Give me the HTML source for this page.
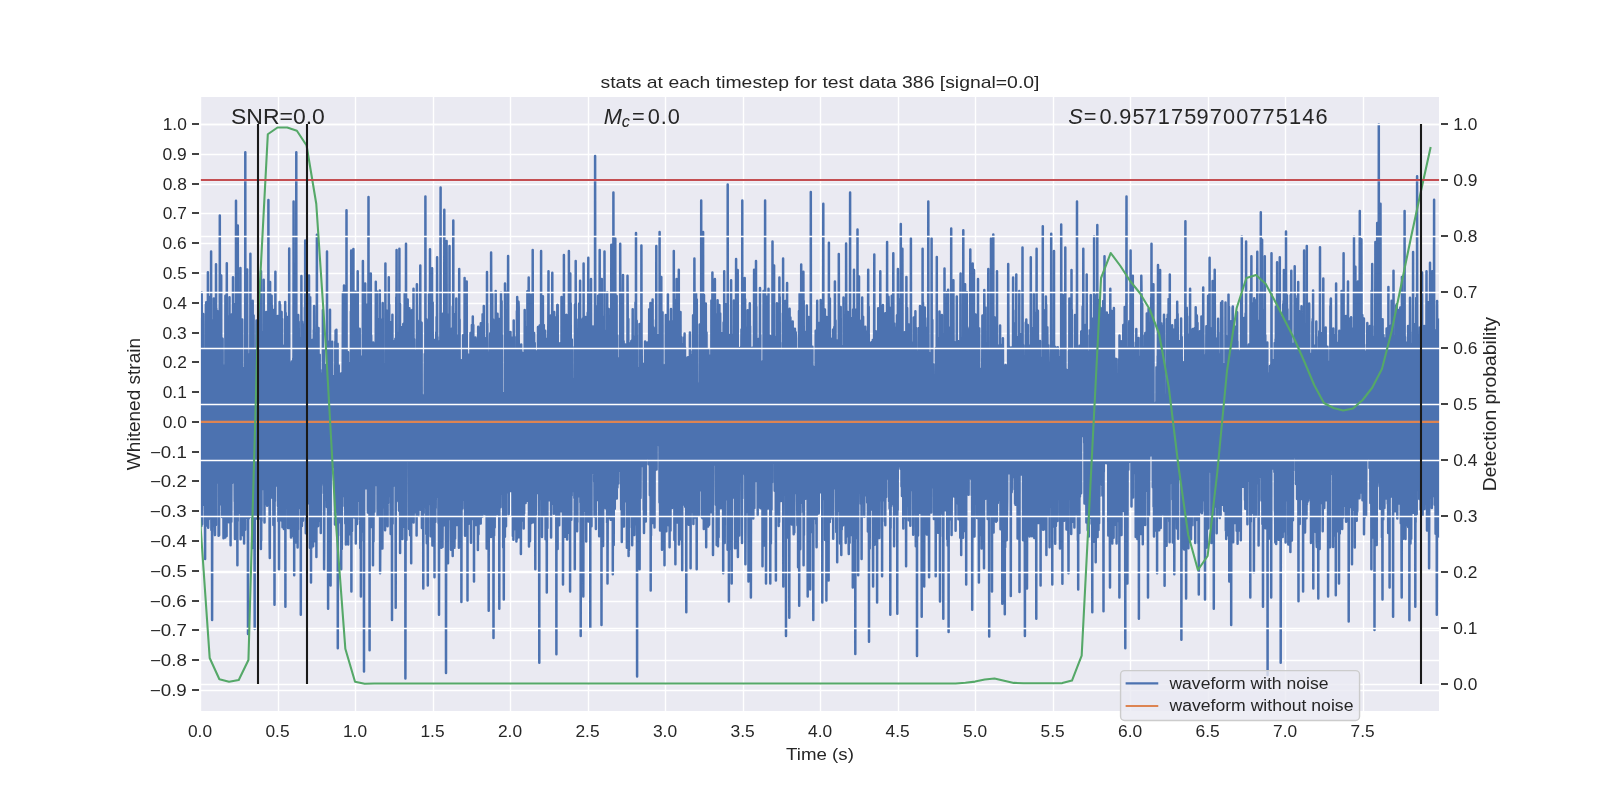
<!DOCTYPE html><html><head><meta charset="utf-8"><style>html,body{margin:0;padding:0;background:#fff;}svg{display:block;will-change:transform;}text{font-family:"Liberation Sans",sans-serif;fill:#262626;}</style></head><body>
<svg width="1600" height="800" viewBox="0 0 1600 800">
<defs><clipPath id="ax"><rect x="200" y="96" width="1240" height="616"/></clipPath></defs>
<rect x="0" y="0" width="1600" height="800" fill="#ffffff"/>
<rect x="200.8" y="96.8" width="1238.4" height="614.4" fill="#EAEAF2"/>
<path d="M200 690.5H1440M200 660.5H1440M200 630.5H1440M200 601.5H1440M200 571.5H1440M200 541.5H1440M200 511.5H1440M200 481.5H1440M200 452.5H1440M200 422.5H1440M200 392.5H1440M200 362.5H1440M200 333.5H1440M200 303.5H1440M200 273.5H1440M200 243.5H1440M200 213.5H1440M200 184.5H1440M200 154.5H1440M200 124.5H1440M200.5 96V712M278.5 96V712M355.5 96V712M433.5 96V712M510.5 96V712M588.5 96V712M665.5 96V712M743.5 96V712M820.5 96V712M898.5 96V712M975.5 96V712M1053.5 96V712M1130.5 96V712M1208.5 96V712M1285.5 96V712M1363.5 96V712" stroke="#ffffff" stroke-width="1.389" fill="none" clip-path="url(#ax)"/>
<polyline points="200.0,411.9 200.2,432.7 200.3,371.3 200.5,413.6 200.6,465.9 200.8,393.3 200.9,318.8 201.1,347.0 201.2,479.7 201.4,525.9 201.5,473.1 201.7,292.5 201.8,335.7 202.0,439.9 202.1,524.3 202.3,482.1 202.4,466.6 202.6,447.9 202.7,389.3 202.9,339.5 203.0,432.4 203.2,313.9 203.3,476.6 203.5,394.1 203.6,350.5 203.8,414.4 203.9,483.0 204.1,497.7 204.2,459.5 204.4,404.5 204.5,504.9 204.7,439.1 204.8,435.0 205.0,379.1 205.1,559.1 205.3,393.8 205.4,475.6 205.6,432.5 205.8,359.9 205.9,303.9 206.1,525.4 206.2,302.2 206.4,315.5 206.5,360.1 206.7,401.0 206.8,447.7 207.0,306.7 207.1,483.8 207.3,389.4 207.4,318.0 207.6,393.6 207.7,521.2 207.9,272.3 208.0,370.0 208.2,527.8 208.3,390.6 208.5,387.9 208.6,366.9 208.8,519.2 208.9,476.3 209.1,457.8 209.2,518.1 209.4,448.5 209.5,462.6 209.7,395.9 209.8,443.1 210.0,296.7 210.1,317.6 210.3,371.9 210.4,335.8 210.6,417.8 210.7,367.9 210.9,342.7 211.1,251.5 211.2,491.7 211.4,529.9 211.5,476.0 211.7,348.2 211.8,418.0 212.0,456.6 212.1,619.9 212.3,473.5 212.4,452.7 212.6,510.8 212.7,525.9 212.9,372.4 213.0,376.2 213.2,320.2 213.3,483.2 213.5,367.3 213.6,445.2 213.8,298.4 213.9,457.0 214.1,481.5 214.2,402.3 214.4,341.1 214.5,409.3 214.7,469.2 214.8,530.3 215.0,535.1 215.1,382.6 215.3,344.5 215.4,435.1 215.6,508.5 215.7,353.7 215.9,525.0 216.0,264.2 216.2,373.4 216.3,308.4 216.5,391.7 216.7,468.6 216.8,413.4 217.0,427.9 217.1,406.1 217.3,367.8 217.4,482.6 217.6,311.3 217.7,365.4 217.9,356.3 218.0,331.3 218.2,360.7 218.3,356.3 218.5,416.0 218.6,535.7 218.8,432.6 218.9,483.2 219.1,535.2 219.2,401.8 219.4,467.1 219.5,503.7 219.7,504.7 219.8,215.6 220.0,394.1 220.1,319.6 220.3,423.0 220.4,341.3 220.6,313.5 220.7,333.0 220.9,363.3 221.0,327.0 221.2,275.5 221.3,389.2 221.5,393.2 221.6,392.4 221.8,397.2 222.0,450.2 222.1,517.1 222.3,430.4 222.4,485.1 222.6,338.7 222.7,444.6 222.9,415.5 223.0,488.6 223.2,461.9 223.3,422.8 223.5,538.3 223.6,398.8 223.8,430.2 223.9,514.6 224.1,388.2 224.2,382.5 224.4,445.1 224.5,463.3 224.7,440.3 224.8,365.6 225.0,425.8 225.1,415.2 225.3,537.6 225.4,295.8 225.6,351.7 225.7,340.3 225.9,418.2 226.0,351.8 226.2,393.5 226.3,375.0 226.5,433.7 226.6,536.0 226.8,263.2 226.9,352.6 227.1,440.4 227.2,437.7 227.4,502.4 227.6,375.2 227.7,437.3 227.9,455.6 228.0,382.3 228.2,458.6 228.3,316.3 228.5,395.2 228.6,458.4 228.8,410.7 228.9,522.3 229.1,339.4 229.2,425.8 229.4,443.6 229.5,297.2 229.7,520.1 229.8,466.7 230.0,458.0 230.1,377.5 230.3,472.7 230.4,469.0 230.6,545.2 230.7,366.8 230.9,361.0 231.0,458.6 231.2,409.6 231.3,521.8 231.5,458.4 231.6,318.2 231.8,411.7 231.9,314.2 232.1,483.1 232.2,378.3 232.4,437.1 232.5,379.4 232.7,422.4 232.9,465.8 233.0,277.2 233.2,462.4 233.3,427.9 233.5,423.2 233.6,472.9 233.8,371.3 233.9,461.3 234.1,320.5 234.2,347.2 234.4,433.9 234.5,459.3 234.7,501.5 234.8,477.4 235.0,538.9 235.1,332.5 235.3,303.9 235.4,522.0 235.6,516.2 235.7,348.9 235.9,499.0 236.0,200.7 236.2,513.5 236.3,326.1 236.5,449.7 236.6,358.8 236.8,461.3 236.9,292.2 237.1,407.2 237.2,452.7 237.4,565.2 237.5,448.2 237.7,520.9 237.8,225.6 238.0,425.0 238.1,343.7 238.3,496.9 238.5,363.0 238.6,359.5 238.8,476.4 238.9,409.9 239.1,489.9 239.2,512.8 239.4,479.7 239.5,459.1 239.7,509.5 239.8,450.4 240.0,422.4 240.1,366.0 240.3,472.3 240.4,268.0 240.6,539.2 240.7,490.5 240.9,369.3 241.0,346.5 241.2,486.9 241.3,533.2 241.5,503.2 241.6,423.7 241.8,419.4 241.9,484.1 242.1,529.6 242.2,319.4 242.4,389.3 242.5,453.3 242.7,440.4 242.8,466.4 243.0,535.3 243.1,413.6 243.3,512.2 243.4,506.6 243.6,476.0 243.8,369.4 243.9,521.1 244.1,543.6 244.2,376.1 244.4,368.0 244.5,503.5 244.7,381.8 244.8,446.8 245.0,400.4 245.1,529.7 245.3,152.2 245.4,336.3 245.6,376.6 245.7,382.2 245.9,370.0 246.0,403.4 246.2,424.1 246.3,434.6 246.5,476.3 246.6,418.0 246.8,392.7 246.9,444.7 247.1,462.0 247.2,269.5 247.4,517.9 247.5,349.3 247.7,409.4 247.8,491.9 248.0,634.0 248.1,502.2 248.3,374.5 248.4,397.5 248.6,470.6 248.7,518.5 248.9,400.7 249.0,354.8 249.2,431.9 249.4,392.6 249.5,455.0 249.7,417.2 249.8,447.6 250.0,401.4 250.1,415.3 250.3,376.8 250.4,253.8 250.6,396.7 250.7,452.0 250.9,399.3 251.0,516.7 251.2,338.0 251.3,437.0 251.5,513.8 251.6,405.2 251.8,318.1 251.9,402.1 252.1,443.8 252.2,547.9 252.4,438.8 252.5,423.6 252.7,300.8 252.8,377.3 253.0,444.9 253.1,404.3 253.3,456.8 253.4,499.6 253.6,315.4 253.7,426.3 253.9,454.4 254.0,406.0 254.2,360.5 254.3,349.6 254.5,543.5 254.7,629.0 254.8,352.7 255.0,455.4 255.1,494.3 255.3,507.5 255.4,412.8 255.6,479.2 255.7,489.5 255.9,362.0 256.0,394.9 256.2,456.8 256.3,367.4 256.5,320.4 256.6,518.6 256.8,475.2 256.9,351.6 257.1,368.2 257.2,404.9 257.4,334.8 257.5,518.1 257.7,434.1 257.8,498.5 258.0,412.6 258.1,492.3 258.3,464.9 258.4,508.1 258.6,476.7 258.7,510.7 258.9,394.0 259.0,361.4 259.2,464.3 259.3,440.2 259.5,473.2 259.6,381.3 259.8,415.1 259.9,299.7 260.1,518.7 260.3,394.0 260.4,387.7 260.6,453.7 260.7,376.8 260.9,549.1 261.0,271.2 261.2,540.5 261.3,350.5 261.5,521.0 261.6,332.3 261.8,455.9 261.9,409.5 262.1,417.7 262.2,335.7 262.4,450.3 262.5,365.0 262.7,489.1 262.8,407.4 263.0,460.8 263.1,361.2 263.3,341.7 263.4,434.9 263.6,363.7 263.7,279.8 263.9,335.9 264.0,448.3 264.2,484.8 264.3,452.7 264.5,522.4 264.6,435.7 264.8,335.6 264.9,504.8 265.1,500.1 265.2,501.1 265.4,345.1 265.5,378.0 265.7,435.5 265.9,334.6 266.0,447.5 266.2,311.9 266.3,427.5 266.5,469.8 266.6,361.0 266.8,335.6 266.9,359.1 267.1,505.7 267.2,333.5 267.4,316.8 267.5,469.6 267.7,413.1 267.8,375.6 268.0,423.4 268.1,397.0 268.3,386.7 268.4,200.0 268.6,430.9 268.7,452.8 268.9,495.1 269.0,500.7 269.2,324.4 269.3,429.3 269.5,356.3 269.6,536.6 269.8,558.1 269.9,514.6 270.1,281.9 270.2,332.6 270.4,394.1 270.5,492.7 270.7,433.4 270.8,448.1 271.0,452.3 271.2,390.8 271.3,497.5 271.5,438.6 271.6,295.7 271.8,408.5 271.9,305.4 272.1,456.5 272.2,444.1 272.4,329.5 272.5,383.4 272.7,376.5 272.8,397.6 273.0,464.6 273.1,414.1 273.3,483.8 273.4,525.1 273.6,484.4 273.7,452.1 273.9,309.9 274.0,421.7 274.2,491.1 274.3,410.2 274.5,604.7 274.6,481.1 274.8,327.7 274.9,500.9 275.1,440.5 275.2,367.2 275.4,271.7 275.5,392.2 275.7,315.7 275.8,384.7 276.0,477.7 276.1,485.4 276.3,320.9 276.4,397.4 276.6,422.7 276.8,385.8 276.9,362.9 277.1,483.6 277.2,447.1 277.4,410.2 277.5,469.2 277.7,433.5 277.8,316.1 278.0,506.0 278.1,415.2 278.3,413.1 278.4,521.3 278.6,434.1 278.7,394.0 278.9,487.9 279.0,569.2 279.2,442.4 279.3,361.9 279.5,466.2 279.6,302.0 279.8,398.4 279.9,430.7 280.1,304.7 280.2,371.3 280.4,392.0 280.5,450.5 280.7,351.6 280.8,356.4 281.0,439.4 281.1,400.9 281.3,391.8 281.4,520.5 281.6,311.9 281.7,445.9 281.9,399.3 282.1,318.9 282.2,399.2 282.4,357.2 282.5,527.3 282.7,423.8 282.8,411.9 283.0,352.8 283.1,412.6 283.3,357.6 283.4,465.2 283.6,393.3 283.7,388.7 283.9,529.1 284.0,407.9 284.2,449.3 284.3,464.3 284.5,345.6 284.6,452.9 284.8,494.8 284.9,454.2 285.1,410.9 285.2,302.1 285.4,606.7 285.5,384.4 285.7,313.0 285.8,379.6 286.0,337.2 286.1,462.5 286.3,360.9 286.4,426.8 286.6,336.9 286.7,507.4 286.9,488.3 287.0,321.8 287.2,438.6 287.3,452.4 287.5,415.8 287.7,480.5 287.8,317.0 288.0,528.0 288.1,434.7 288.3,394.6 288.4,430.7 288.6,490.0 288.7,495.6 288.9,388.5 289.0,509.2 289.2,248.5 289.3,374.7 289.5,468.9 289.6,419.0 289.8,527.9 289.9,370.9 290.1,423.4 290.2,509.5 290.4,423.5 290.5,409.4 290.7,417.9 290.8,519.8 291.0,537.4 291.1,441.5 291.3,439.6 291.4,400.4 291.6,362.9 291.7,405.5 291.9,361.5 292.0,535.7 292.2,458.4 292.3,401.8 292.5,423.4 292.6,438.2 292.8,478.3 293.0,443.8 293.1,487.5 293.3,358.3 293.4,523.2 293.6,201.5 293.7,303.4 293.9,538.5 294.0,414.5 294.2,575.3 294.3,353.1 294.5,480.7 294.6,450.9 294.8,419.5 294.9,349.7 295.1,449.1 295.2,376.1 295.4,542.6 295.5,419.4 295.7,328.8 295.8,394.8 296.0,382.8 296.1,354.0 296.3,152.2 296.4,410.6 296.6,330.2 296.7,427.3 296.9,468.3 297.0,398.5 297.2,473.4 297.3,470.7 297.5,473.6 297.6,547.6 297.8,414.1 297.9,529.5 298.1,431.0 298.2,315.0 298.4,466.3 298.6,468.1 298.7,321.7 298.9,381.8 299.0,350.3 299.2,452.2 299.3,367.2 299.5,480.4 299.6,479.5 299.8,378.4 299.9,472.9 300.1,366.1 300.2,508.2 300.4,499.9 300.5,486.1 300.7,340.8 300.8,614.8 301.0,338.0 301.1,508.1 301.3,398.0 301.4,276.1 301.6,411.8 301.7,398.1 301.9,526.1 302.0,513.7 302.2,321.7 302.3,400.9 302.5,414.3 302.6,425.6 302.8,396.5 302.9,520.7 303.1,507.3 303.2,329.2 303.4,411.1 303.5,361.6 303.7,473.7 303.9,324.6 304.0,397.5 304.2,387.9 304.3,383.2 304.5,490.1 304.6,444.1 304.8,513.9 304.9,307.5 305.1,330.8 305.2,240.4 305.4,447.7 305.5,349.5 305.7,436.3 305.8,533.3 306.0,333.9 306.1,388.7 306.3,345.2 306.4,448.7 306.6,411.9 306.7,388.6 306.9,411.4 307.0,476.4 307.2,431.8 307.3,401.6 307.5,444.9 307.6,453.8 307.8,336.0 307.9,503.2 308.1,451.9 308.2,369.5 308.4,384.9 308.5,365.4 308.7,384.5 308.8,359.5 309.0,275.5 309.1,398.6 309.3,389.8 309.5,444.9 309.6,341.5 309.8,451.9 309.9,547.7 310.1,364.6 310.2,297.2 310.4,504.5 310.5,430.6 310.7,480.8 310.8,454.6 311.0,582.4 311.1,528.7 311.3,445.8 311.4,548.0 311.6,470.8 311.7,523.9 311.9,513.0 312.0,404.8 312.2,340.1 312.3,387.8 312.5,391.8 312.6,473.2 312.8,479.6 312.9,481.3 313.1,546.3 313.2,371.4 313.4,455.9 313.5,390.6 313.7,386.7 313.8,330.0 314.0,335.9 314.1,305.9 314.3,337.2 314.4,383.7 314.6,541.3 314.8,408.2 314.9,367.2 315.1,485.4 315.2,346.4 315.4,410.7 315.5,460.7 315.7,416.7 315.8,448.1 316.0,421.3 316.1,438.8 316.3,486.9 316.4,557.1 316.6,372.9 316.7,398.4 316.9,234.7 317.0,355.1 317.2,452.0 317.3,526.5 317.5,381.9 317.6,384.6 317.8,511.6 317.9,441.5 318.1,525.9 318.2,470.8 318.4,521.2 318.5,328.1 318.7,437.0 318.8,453.9 319.0,427.2 319.1,473.2 319.3,481.3 319.4,477.0 319.6,375.3 319.7,354.7 319.9,512.6 320.0,406.1 320.2,370.1 320.4,514.9 320.5,465.1 320.7,511.2 320.8,532.9 321.0,415.2 321.1,485.2 321.3,380.5 321.4,424.4 321.6,394.8 321.7,447.0 321.9,476.5 322.0,429.7 322.2,422.3 322.3,482.6 322.5,394.0 322.6,373.1 322.8,411.5 322.9,310.0 323.1,476.3 323.2,387.9 323.4,457.0 323.5,406.6 323.7,493.3 323.8,349.2 324.0,410.4 324.1,569.2 324.3,530.8 324.4,464.3 324.6,498.7 324.7,467.6 324.9,481.5 325.0,432.2 325.2,423.4 325.3,425.4 325.5,469.7 325.7,409.7 325.8,365.1 326.0,499.5 326.1,421.8 326.3,428.2 326.4,391.6 326.6,427.4 326.7,423.2 326.9,507.1 327.0,251.5 327.2,501.2 327.3,388.6 327.5,430.8 327.6,419.3 327.8,498.5 327.9,370.0 328.1,608.7 328.2,366.4 328.4,342.1 328.5,426.4 328.7,344.4 328.8,432.5 329.0,396.5 329.1,398.4 329.3,404.9 329.4,379.6 329.6,448.0 329.7,419.2 329.9,387.5 330.0,309.7 330.2,494.3 330.3,420.9 330.5,463.4 330.6,585.4 330.8,410.5 330.9,415.9 331.1,345.0 331.3,358.4 331.4,426.1 331.6,462.0 331.7,451.4 331.9,452.3 332.0,441.1 332.2,341.8 332.3,461.2 332.5,458.1 332.6,437.9 332.8,443.5 332.9,377.3 333.1,467.1 333.2,459.1 333.4,385.8 333.5,441.8 333.7,407.4 333.8,377.0 334.0,393.6 334.1,405.1 334.3,438.5 334.4,375.9 334.6,410.0 334.7,464.5 334.9,434.6 335.0,524.5 335.2,502.8 335.3,341.4 335.5,479.0 335.6,330.6 335.8,468.6 335.9,367.9 336.1,422.2 336.2,480.6 336.4,329.7 336.5,381.7 336.7,478.0 336.9,349.8 337.0,511.6 337.2,436.7 337.3,375.4 337.5,446.9 337.6,343.8 337.8,648.2 337.9,424.6 338.1,461.2 338.2,402.1 338.4,469.6 338.5,439.8 338.7,365.4 338.8,399.5 339.0,498.1 339.1,409.5 339.3,472.5 339.4,522.3 339.6,515.2 339.7,401.4 339.9,424.2 340.0,421.5 340.2,516.3 340.3,437.0 340.5,507.2 340.6,498.1 340.8,435.4 340.9,535.5 341.1,373.4 341.2,569.2 341.4,388.6 341.5,507.3 341.7,444.1 341.8,549.1 342.0,452.7 342.2,384.7 342.3,378.7 342.5,506.0 342.6,399.9 342.8,336.7 342.9,292.4 343.1,478.9 343.2,492.1 343.4,417.8 343.5,434.9 343.7,465.0 343.8,443.8 344.0,285.5 344.1,461.1 344.3,441.7 344.4,484.7 344.6,365.1 344.7,496.1 344.9,444.7 345.0,440.7 345.2,379.1 345.3,523.4 345.5,449.3 345.6,364.3 345.8,450.9 345.9,544.5 346.1,397.0 346.2,396.2 346.4,443.6 346.5,210.3 346.7,481.2 346.8,447.0 347.0,491.9 347.1,361.4 347.3,483.3 347.4,426.8 347.6,462.3 347.8,427.9 347.9,415.4 348.1,352.3 348.2,544.6 348.4,364.9 348.5,533.4 348.7,446.0 348.8,429.4 349.0,416.3 349.1,513.9 349.3,400.5 349.4,482.5 349.6,390.2 349.7,447.6 349.9,390.5 350.0,363.1 350.2,456.5 350.3,433.6 350.5,534.6 350.6,513.4 350.8,464.7 350.9,311.6 351.1,474.6 351.2,250.6 351.4,591.5 351.5,397.7 351.7,406.6 351.8,400.7 352.0,530.9 352.1,453.0 352.3,498.4 352.4,406.1 352.6,465.5 352.7,425.4 352.9,428.1 353.1,424.8 353.2,424.7 353.4,248.9 353.5,506.8 353.7,475.4 353.8,336.0 354.0,391.9 354.1,374.8 354.3,311.0 354.4,517.4 354.6,380.9 354.7,509.1 354.9,449.0 355.0,382.9 355.2,291.8 355.3,485.6 355.5,429.6 355.6,328.5 355.8,543.5 355.9,392.6 356.1,447.1 356.2,494.0 356.4,410.0 356.5,373.7 356.7,496.7 356.8,391.1 357.0,407.8 357.1,524.1 357.3,295.7 357.4,333.3 357.6,492.8 357.7,271.3 357.9,359.1 358.0,462.9 358.2,432.2 358.3,336.3 358.5,421.2 358.7,395.4 358.8,392.7 359.0,406.3 359.1,449.5 359.3,436.2 359.4,501.2 359.6,403.1 359.7,328.8 359.9,519.3 360.0,497.9 360.2,384.9 360.3,548.3 360.5,513.5 360.6,356.5 360.8,471.2 360.9,596.6 361.1,392.9 361.2,540.7 361.4,466.0 361.5,453.3 361.7,415.0 361.8,453.1 362.0,428.7 362.1,417.1 362.3,429.2 362.4,414.2 362.6,423.6 362.7,385.3 362.9,261.1 363.0,302.9 363.2,307.2 363.3,531.5 363.5,406.9 363.6,487.8 363.8,479.9 364.0,671.5 364.1,511.6 364.3,390.8 364.4,390.1 364.6,324.7 364.7,450.8 364.9,334.5 365.0,333.5 365.2,283.6 365.3,372.8 365.5,384.3 365.6,434.2 365.8,369.3 365.9,488.2 366.1,344.4 366.2,371.4 366.4,415.8 366.5,409.0 366.7,380.9 366.8,343.0 367.0,403.5 367.1,393.3 367.3,304.6 367.4,395.1 367.6,375.9 367.7,338.3 367.9,512.5 368.0,318.2 368.2,390.0 368.3,404.3 368.5,197.0 368.6,397.1 368.8,513.0 368.9,511.9 369.1,366.7 369.2,430.7 369.4,381.8 369.6,650.2 369.7,319.8 369.9,409.6 370.0,320.8 370.2,364.7 370.3,407.9 370.5,464.1 370.6,419.2 370.8,273.5 370.9,363.0 371.1,527.0 371.2,335.6 371.4,440.6 371.5,353.5 371.7,483.0 371.8,368.5 372.0,491.6 372.1,411.1 372.3,447.9 372.4,446.8 372.6,471.3 372.7,435.3 372.9,388.8 373.0,565.2 373.2,342.4 373.3,460.3 373.5,541.6 373.6,477.9 373.8,344.0 373.9,370.6 374.1,447.8 374.2,348.5 374.4,511.8 374.5,474.7 374.7,383.2 374.9,430.1 375.0,472.6 375.2,376.0 375.3,367.5 375.5,395.7 375.6,433.1 375.8,281.8 375.9,423.1 376.1,399.4 376.2,346.0 376.4,485.0 376.5,364.7 376.7,367.2 376.8,361.1 377.0,291.5 377.1,369.4 377.3,469.6 377.4,439.6 377.6,515.8 377.7,461.1 377.9,503.5 378.0,430.6 378.2,336.6 378.3,319.8 378.5,385.5 378.6,473.2 378.8,468.5 378.9,472.6 379.1,347.5 379.2,498.0 379.4,354.6 379.5,424.6 379.7,408.5 379.8,290.4 380.0,461.6 380.1,573.3 380.3,539.6 380.5,490.7 380.6,428.4 380.8,484.1 380.9,377.2 381.1,365.4 381.2,398.4 381.4,401.5 381.5,519.2 381.7,531.8 381.8,398.8 382.0,319.6 382.1,452.0 382.3,526.6 382.4,548.4 382.6,478.0 382.7,302.9 382.9,439.0 383.0,507.2 383.2,471.9 383.3,461.6 383.5,402.0 383.6,475.9 383.8,494.7 383.9,437.2 384.1,387.1 384.2,368.7 384.4,381.1 384.5,459.2 384.7,364.2 384.8,486.8 385.0,401.0 385.1,530.2 385.3,403.3 385.4,263.4 385.6,469.0 385.8,340.2 385.9,405.9 386.1,322.2 386.2,497.7 386.4,339.9 386.5,356.1 386.7,404.1 386.8,429.0 387.0,310.8 387.1,365.9 387.3,457.3 387.4,440.5 387.6,526.2 387.7,407.1 387.9,393.3 388.0,502.9 388.2,342.3 388.3,423.5 388.5,450.8 388.6,430.3 388.8,277.3 388.9,348.8 389.1,483.4 389.2,304.7 389.4,428.9 389.5,370.0 389.7,468.2 389.8,495.9 390.0,366.0 390.1,482.6 390.3,483.6 390.4,359.2 390.6,513.7 390.7,534.1 390.9,383.7 391.0,322.2 391.2,481.4 391.4,450.8 391.5,528.5 391.7,510.5 391.8,375.1 392.0,619.9 392.1,497.0 392.3,384.6 392.4,314.8 392.6,523.8 392.7,417.6 392.9,421.0 393.0,378.7 393.2,364.4 393.3,437.8 393.5,485.5 393.6,340.9 393.8,375.5 393.9,426.0 394.1,459.0 394.2,429.9 394.4,410.8 394.5,477.2 394.7,432.4 394.8,374.1 395.0,363.5 395.1,370.6 395.3,342.3 395.4,338.7 395.6,481.7 395.7,607.7 395.9,441.3 396.0,475.2 396.2,425.4 396.3,296.9 396.5,298.9 396.6,249.9 396.8,404.5 397.0,447.0 397.1,495.1 397.3,451.3 397.4,422.3 397.6,448.0 397.7,410.9 397.9,500.4 398.0,388.4 398.2,399.6 398.3,421.7 398.5,435.8 398.6,332.7 398.8,502.1 398.9,432.0 399.1,510.7 399.2,415.6 399.4,248.8 399.5,355.0 399.7,334.9 399.8,373.7 400.0,303.9 400.1,553.0 400.3,398.9 400.4,394.7 400.6,433.4 400.7,398.5 400.9,422.3 401.0,494.3 401.2,457.1 401.3,351.8 401.5,523.0 401.6,327.2 401.8,387.1 401.9,440.5 402.1,433.5 402.3,360.9 402.4,539.0 402.6,472.5 402.7,488.5 402.9,484.6 403.0,332.0 403.2,363.6 403.3,324.1 403.5,344.7 403.6,394.1 403.8,526.7 403.9,460.7 404.1,407.2 404.2,423.3 404.4,371.8 404.5,344.5 404.7,293.5 404.8,313.2 405.0,505.8 405.1,389.5 405.3,498.1 405.4,678.6 405.6,535.9 405.7,391.3 405.9,335.2 406.0,243.8 406.2,396.2 406.3,539.9 406.5,430.3 406.6,444.1 406.8,394.3 406.9,347.9 407.1,372.3 407.2,369.1 407.4,372.3 407.5,454.2 407.7,299.5 407.9,448.0 408.0,400.7 408.2,408.3 408.3,356.2 408.5,401.0 408.6,400.1 408.8,439.4 408.9,433.7 409.1,529.0 409.2,415.6 409.4,308.3 409.5,436.7 409.7,465.5 409.8,472.7 410.0,430.7 410.1,535.2 410.3,357.7 410.4,413.4 410.6,505.5 410.7,322.0 410.9,429.3 411.0,394.1 411.2,563.2 411.3,310.4 411.5,514.2 411.6,364.8 411.8,488.8 411.9,486.7 412.1,489.5 412.2,350.1 412.4,401.0 412.5,383.8 412.7,309.8 412.8,370.2 413.0,376.7 413.2,363.9 413.3,510.7 413.5,288.8 413.6,522.5 413.8,496.9 413.9,429.5 414.1,339.2 414.2,346.0 414.4,512.3 414.5,408.3 414.7,427.8 414.8,380.6 415.0,376.3 415.1,393.5 415.3,502.4 415.4,390.9 415.6,351.7 415.7,464.6 415.9,429.9 416.0,441.4 416.2,474.6 416.3,398.5 416.5,443.3 416.6,535.6 416.8,424.0 416.9,284.3 417.1,309.5 417.2,469.0 417.4,349.9 417.5,411.3 417.7,399.2 417.8,320.8 418.0,353.8 418.1,409.5 418.3,499.0 418.4,515.2 418.6,427.2 418.8,395.9 418.9,381.5 419.1,359.0 419.2,343.0 419.4,478.5 419.5,349.0 419.7,508.8 419.8,331.9 420.0,394.7 420.1,370.8 420.3,265.6 420.4,399.0 420.6,509.7 420.7,332.9 420.9,449.3 421.0,463.4 421.2,335.4 421.3,405.8 421.5,494.4 421.6,322.8 421.8,484.0 421.9,528.1 422.1,451.5 422.2,395.1 422.4,410.9 422.5,413.4 422.7,397.5 422.8,404.0 423.0,439.7 423.1,471.6 423.3,588.5 423.4,451.0 423.6,446.9 423.7,513.1 423.9,466.7 424.1,415.1 424.2,396.2 424.4,427.2 424.5,437.0 424.7,377.4 424.8,354.0 425.0,365.1 425.1,435.0 425.3,459.5 425.4,196.6 425.6,378.7 425.7,364.9 425.9,395.5 426.0,492.3 426.2,319.1 426.3,534.0 426.5,338.9 426.6,423.2 426.8,543.3 426.9,454.5 427.1,320.2 427.2,470.4 427.4,521.6 427.5,445.7 427.7,489.3 427.8,585.4 428.0,384.7 428.1,354.0 428.3,467.3 428.4,377.3 428.6,453.7 428.7,430.1 428.9,411.3 429.0,294.2 429.2,378.4 429.3,504.1 429.5,377.6 429.7,440.1 429.8,460.2 430.0,249.2 430.1,424.0 430.3,426.8 430.4,454.9 430.6,536.2 430.7,299.0 430.9,410.9 431.0,406.5 431.2,361.6 431.3,436.5 431.5,333.9 431.6,319.0 431.8,426.9 431.9,415.3 432.1,268.3 432.2,434.2 432.4,545.5 432.5,425.1 432.7,302.6 432.8,430.7 433.0,468.6 433.1,401.8 433.3,376.4 433.4,372.9 433.6,397.6 433.7,357.2 433.9,340.3 434.0,512.3 434.2,452.8 434.3,346.8 434.5,577.3 434.6,401.6 434.8,363.8 435.0,339.7 435.1,491.9 435.3,522.0 435.4,516.0 435.6,425.3 435.7,507.9 435.9,441.0 436.0,437.0 436.2,332.8 436.3,332.1 436.5,425.1 436.6,316.9 436.8,325.5 436.9,386.5 437.1,257.3 437.2,342.9 437.4,496.7 437.5,337.0 437.7,377.9 437.8,370.7 438.0,398.9 438.1,404.1 438.3,341.3 438.4,515.5 438.6,523.1 438.7,407.8 438.9,417.4 439.0,614.8 439.2,459.4 439.3,468.9 439.5,356.8 439.6,388.6 439.8,506.3 439.9,535.5 440.1,466.1 440.2,458.9 440.4,307.3 440.6,187.6 440.7,456.2 440.9,326.8 441.0,346.8 441.2,383.9 441.3,547.7 441.5,406.1 441.6,537.5 441.8,451.2 441.9,404.2 442.1,446.8 442.2,339.3 442.4,432.3 442.5,546.9 442.7,507.4 442.8,524.7 443.0,447.4 443.1,313.4 443.3,377.9 443.4,392.4 443.6,525.5 443.7,428.9 443.9,424.1 444.0,457.8 444.2,491.7 444.3,209.8 444.5,506.3 444.6,508.4 444.8,385.4 444.9,449.1 445.1,487.3 445.2,342.5 445.4,502.6 445.5,343.7 445.7,325.7 445.9,503.2 446.0,672.9 446.2,493.5 446.3,486.1 446.5,402.5 446.6,240.9 446.8,437.0 446.9,430.3 447.1,336.9 447.2,354.9 447.4,388.8 447.5,471.3 447.7,354.0 447.8,406.1 448.0,563.2 448.1,468.1 448.3,314.6 448.4,465.4 448.6,464.3 448.7,328.6 448.9,370.6 449.0,494.1 449.2,357.9 449.3,451.9 449.5,246.1 449.6,412.1 449.8,343.0 449.9,518.9 450.1,456.4 450.2,410.1 450.4,399.1 450.5,359.3 450.7,466.1 450.8,525.0 451.0,549.7 451.1,374.2 451.3,360.7 451.5,491.8 451.6,464.0 451.8,480.0 451.9,328.5 452.1,404.9 452.2,349.8 452.4,439.7 452.5,535.4 452.7,556.1 452.8,306.5 453.0,341.8 453.1,399.2 453.3,220.6 453.4,399.6 453.6,545.3 453.7,429.0 453.9,403.0 454.0,400.5 454.2,442.9 454.3,545.1 454.5,547.7 454.6,409.7 454.8,487.7 454.9,314.3 455.1,538.4 455.2,459.3 455.4,475.1 455.5,403.6 455.7,403.6 455.8,449.3 456.0,330.2 456.1,460.4 456.3,298.4 456.4,524.1 456.6,480.3 456.8,439.3 456.9,454.8 457.1,525.1 457.2,482.0 457.4,460.3 457.5,454.8 457.7,408.9 457.8,365.6 458.0,391.1 458.1,394.8 458.3,434.3 458.4,335.4 458.6,394.6 458.7,450.9 458.9,547.7 459.0,476.9 459.2,269.0 459.3,437.9 459.5,456.1 459.6,319.5 459.8,541.9 459.9,429.4 460.1,379.4 460.2,420.0 460.4,514.7 460.5,423.7 460.7,359.9 460.8,394.5 461.0,397.6 461.1,398.4 461.3,411.6 461.4,602.0 461.6,446.6 461.7,389.3 461.9,484.4 462.0,364.8 462.2,396.5 462.4,508.4 462.5,481.5 462.7,438.1 462.8,391.0 463.0,451.7 463.1,335.2 463.3,391.2 463.4,484.7 463.6,459.5 463.7,405.1 463.9,368.3 464.0,372.0 464.2,429.7 464.3,410.9 464.5,423.9 464.6,278.0 464.8,500.6 464.9,378.2 465.1,535.8 465.2,389.3 465.4,403.4 465.5,421.9 465.7,463.6 465.8,309.8 466.0,357.7 466.1,420.1 466.3,389.3 466.4,496.9 466.6,385.6 466.7,281.4 466.9,515.9 467.0,350.4 467.2,456.8 467.3,363.9 467.5,600.6 467.6,394.6 467.8,523.6 468.0,474.5 468.1,440.1 468.3,474.2 468.4,441.1 468.6,354.7 468.7,523.8 468.9,517.3 469.0,418.7 469.2,466.9 469.3,502.0 469.5,412.9 469.6,466.9 469.8,399.1 469.9,425.0 470.1,437.9 470.2,427.3 470.4,352.8 470.5,333.1 470.7,434.6 470.8,504.2 471.0,542.7 471.1,374.1 471.3,515.9 471.4,490.1 471.6,426.1 471.7,390.0 471.9,324.9 472.0,349.7 472.2,337.3 472.3,463.0 472.5,405.3 472.6,497.8 472.8,316.4 472.9,519.1 473.1,463.1 473.3,324.9 473.4,439.0 473.6,429.2 473.7,455.1 473.9,395.8 474.0,581.4 474.2,400.8 474.3,429.5 474.5,362.2 474.6,379.8 474.8,450.4 474.9,466.7 475.1,371.8 475.2,405.8 475.4,388.5 475.5,337.6 475.7,339.9 475.8,369.6 476.0,381.6 476.1,524.9 476.3,511.8 476.4,365.5 476.6,377.3 476.7,386.1 476.9,363.9 477.0,466.6 477.2,382.9 477.3,501.7 477.5,417.6 477.6,357.6 477.8,476.5 477.9,550.0 478.1,343.3 478.2,326.8 478.4,438.9 478.5,534.2 478.7,478.4 478.9,383.6 479.0,444.4 479.2,371.7 479.3,411.4 479.5,469.6 479.6,356.8 479.8,327.7 479.9,481.2 480.1,386.2 480.2,410.9 480.4,402.3 480.5,430.3 480.7,523.5 480.8,323.3 481.0,506.6 481.1,492.5 481.3,375.9 481.4,409.3 481.6,486.5 481.7,475.3 481.9,434.8 482.0,457.3 482.2,376.5 482.3,516.5 482.5,396.3 482.6,314.2 482.8,407.7 482.9,494.2 483.1,480.7 483.2,418.8 483.4,472.7 483.5,334.8 483.7,500.8 483.8,306.1 484.0,497.5 484.2,425.2 484.3,510.2 484.5,363.8 484.6,485.0 484.8,514.3 484.9,449.6 485.1,455.4 485.2,477.4 485.4,389.6 485.5,367.6 485.7,338.3 485.8,448.8 486.0,354.1 486.1,471.0 486.3,486.7 486.4,375.5 486.6,469.7 486.7,548.5 486.9,429.0 487.0,271.9 487.2,422.9 487.3,323.4 487.5,353.1 487.6,421.7 487.8,435.5 487.9,447.8 488.1,474.1 488.2,396.4 488.4,434.8 488.5,453.2 488.7,610.7 488.8,377.0 489.0,352.5 489.1,376.6 489.3,536.4 489.4,413.6 489.6,514.7 489.8,466.2 489.9,495.5 490.1,343.2 490.2,333.2 490.4,451.0 490.5,420.2 490.7,423.5 490.8,447.9 491.0,537.1 491.1,252.6 491.3,309.7 491.4,468.0 491.6,384.5 491.7,434.0 491.9,404.4 492.0,312.2 492.2,443.8 492.3,293.7 492.5,445.4 492.6,429.5 492.8,471.9 492.9,402.2 493.1,319.6 493.2,405.8 493.4,526.0 493.5,638.1 493.7,498.4 493.8,398.7 494.0,512.1 494.1,535.4 494.3,452.6 494.4,393.1 494.6,478.2 494.7,527.5 494.9,387.3 495.1,484.6 495.2,362.1 495.4,350.9 495.5,366.0 495.7,291.0 495.8,412.7 496.0,332.3 496.1,491.8 496.3,396.2 496.4,433.8 496.6,373.8 496.7,458.1 496.9,514.6 497.0,367.5 497.2,511.0 497.3,491.4 497.5,313.8 497.6,505.6 497.8,474.4 497.9,476.5 498.1,366.8 498.2,444.7 498.4,334.2 498.5,441.3 498.7,447.1 498.8,493.3 499.0,433.5 499.1,319.1 499.3,608.7 499.4,496.0 499.6,449.5 499.7,384.6 499.9,415.9 500.0,442.3 500.2,379.7 500.3,396.7 500.5,507.3 500.7,433.9 500.8,387.1 501.0,292.8 501.1,486.8 501.3,433.0 501.4,327.9 501.6,301.2 501.7,417.4 501.9,335.3 502.0,369.9 502.2,465.6 502.3,399.1 502.5,493.4 502.6,396.4 502.8,392.9 502.9,461.3 503.1,489.2 503.2,547.4 503.4,462.8 503.5,431.4 503.7,545.2 503.8,599.6 504.0,484.3 504.1,455.2 504.3,461.5 504.4,418.6 504.6,448.7 504.7,435.4 504.9,536.8 505.0,283.6 505.2,363.8 505.3,463.3 505.5,406.2 505.6,474.1 505.8,394.8 506.0,526.2 506.1,403.6 506.3,319.4 506.4,391.4 506.6,467.6 506.7,357.1 506.9,492.2 507.0,372.1 507.2,415.3 507.3,483.9 507.5,392.3 507.6,291.3 507.8,334.8 507.9,355.5 508.1,256.0 508.2,319.3 508.4,431.7 508.5,390.9 508.7,514.3 508.8,511.0 509.0,367.7 509.1,431.7 509.3,424.9 509.4,412.6 509.6,463.7 509.7,409.3 509.9,401.1 510.0,367.8 510.2,413.4 510.3,400.3 510.5,332.1 510.6,491.0 510.8,417.1 510.9,389.4 511.1,351.6 511.2,426.8 511.4,415.1 511.6,448.4 511.7,337.4 511.9,446.5 512.0,375.1 512.2,429.7 512.3,419.8 512.5,515.9 512.6,418.0 512.8,424.2 512.9,536.1 513.1,478.9 513.2,456.8 513.4,539.7 513.5,515.7 513.7,320.6 513.8,501.3 514.0,488.0 514.1,529.6 514.3,337.0 514.4,358.3 514.6,399.8 514.7,416.0 514.9,459.9 515.0,443.9 515.2,474.0 515.3,376.0 515.5,373.6 515.6,358.2 515.8,525.5 515.9,372.5 516.1,377.5 516.2,351.6 516.4,541.5 516.5,421.5 516.7,539.3 516.9,311.1 517.0,460.2 517.2,297.1 517.3,347.1 517.5,464.8 517.6,375.3 517.8,509.3 517.9,348.4 518.1,446.9 518.2,537.2 518.4,439.4 518.5,301.8 518.7,307.6 518.8,458.8 519.0,400.0 519.1,378.2 519.3,537.3 519.4,463.5 519.6,453.5 519.7,393.0 519.9,461.8 520.0,531.1 520.2,398.6 520.3,472.1 520.5,518.0 520.6,517.8 520.8,439.3 520.9,554.1 521.1,435.5 521.2,344.5 521.4,409.1 521.5,487.6 521.7,520.6 521.8,443.4 522.0,366.1 522.1,464.8 522.3,519.6 522.5,353.1 522.6,481.8 522.8,402.0 522.9,474.2 523.1,384.2 523.2,452.1 523.4,363.8 523.5,376.5 523.7,528.4 523.8,428.2 524.0,498.8 524.1,513.4 524.3,469.0 524.4,394.3 524.6,478.2 524.7,310.1 524.9,407.1 525.0,499.1 525.2,458.5 525.3,472.3 525.5,408.7 525.6,503.0 525.8,327.0 525.9,450.1 526.1,440.7 526.2,353.4 526.4,481.2 526.5,422.0 526.7,373.5 526.8,391.3 527.0,400.0 527.1,459.7 527.3,500.8 527.4,291.2 527.6,434.6 527.7,466.7 527.9,476.2 528.1,327.8 528.2,438.2 528.4,390.6 528.5,330.4 528.7,277.6 528.8,361.5 529.0,546.4 529.1,458.6 529.3,335.7 529.4,440.1 529.6,397.8 529.7,434.9 529.9,471.5 530.0,541.2 530.2,513.1 530.3,294.6 530.5,428.2 530.6,517.0 530.8,494.3 530.9,355.9 531.1,497.8 531.2,472.0 531.4,511.5 531.5,523.0 531.7,297.8 531.8,433.2 532.0,447.7 532.1,470.3 532.3,368.4 532.4,417.3 532.6,400.0 532.7,249.9 532.9,450.7 533.0,460.7 533.2,333.8 533.4,461.6 533.5,355.9 533.7,522.2 533.8,421.5 534.0,396.8 534.1,332.9 534.3,471.7 534.4,454.1 534.6,493.1 534.7,343.1 534.9,406.0 535.0,489.7 535.2,368.1 535.3,569.2 535.5,437.9 535.6,390.5 535.8,384.8 535.9,514.5 536.1,482.7 536.2,456.0 536.4,376.3 536.5,434.4 536.7,351.6 536.8,467.0 537.0,353.8 537.1,443.5 537.3,492.9 537.4,467.7 537.6,428.8 537.7,408.5 537.9,417.5 538.0,327.1 538.2,469.9 538.3,359.5 538.5,437.5 538.6,366.9 538.8,481.9 539.0,490.1 539.1,493.9 539.3,662.8 539.4,331.6 539.6,498.9 539.7,325.4 539.9,371.1 540.0,479.0 540.2,416.3 540.3,382.4 540.5,432.0 540.6,365.5 540.8,490.1 540.9,481.3 541.1,251.0 541.2,464.6 541.4,397.7 541.5,492.4 541.7,328.8 541.8,478.6 542.0,536.9 542.1,490.5 542.3,344.6 542.4,429.3 542.6,388.8 542.7,508.7 542.9,296.3 543.0,366.2 543.2,466.3 543.3,499.0 543.5,514.7 543.6,509.7 543.8,325.0 543.9,499.5 544.1,467.6 544.3,466.8 544.4,458.3 544.6,422.3 544.7,395.7 544.9,446.9 545.0,480.0 545.2,330.8 545.3,399.1 545.5,475.1 545.6,539.2 545.8,520.0 545.9,508.7 546.1,412.0 546.2,338.7 546.4,414.6 546.5,383.9 546.7,542.5 546.8,592.5 547.0,442.3 547.1,416.5 547.3,439.4 547.4,528.0 547.6,345.0 547.7,371.9 547.9,416.6 548.0,349.3 548.2,337.0 548.3,324.0 548.5,271.3 548.6,448.8 548.8,463.0 548.9,359.5 549.1,482.0 549.2,500.3 549.4,383.1 549.5,385.3 549.7,377.4 549.9,494.9 550.0,400.9 550.2,358.0 550.3,463.2 550.5,445.0 550.6,447.5 550.8,315.4 550.9,358.7 551.1,537.4 551.2,372.3 551.4,376.1 551.5,440.2 551.7,384.3 551.8,403.1 552.0,350.6 552.1,330.4 552.3,272.8 552.4,404.1 552.6,405.2 552.7,503.7 552.9,467.4 553.0,472.5 553.2,418.7 553.3,371.9 553.5,445.7 553.6,435.1 553.8,466.5 553.9,513.7 554.1,480.6 554.2,311.9 554.4,324.0 554.5,447.7 554.7,377.0 554.8,317.0 555.0,329.4 555.2,465.5 555.3,359.3 555.5,452.7 555.6,418.2 555.8,409.8 555.9,441.9 556.1,383.8 556.2,393.9 556.4,654.3 556.5,400.3 556.7,467.1 556.8,412.1 557.0,465.0 557.1,414.8 557.3,304.9 557.4,478.7 557.6,549.1 557.7,305.0 557.9,400.4 558.0,478.5 558.2,443.6 558.3,501.4 558.5,352.8 558.6,369.3 558.8,375.5 558.9,405.6 559.1,427.2 559.2,525.3 559.4,400.8 559.5,349.2 559.7,428.8 559.8,511.3 560.0,374.8 560.1,439.0 560.3,343.0 560.4,396.7 560.6,413.4 560.8,506.9 560.9,374.9 561.1,412.1 561.2,363.2 561.4,511.3 561.5,296.9 561.7,383.4 561.8,447.7 562.0,363.0 562.1,396.8 562.3,479.0 562.4,480.4 562.6,357.2 562.7,395.9 562.9,340.3 563.0,584.4 563.2,475.7 563.3,306.2 563.5,502.8 563.6,461.6 563.8,490.5 563.9,255.0 564.1,374.4 564.2,514.2 564.4,481.9 564.5,349.8 564.7,355.6 564.8,476.4 565.0,536.7 565.1,431.0 565.3,451.4 565.4,510.7 565.6,456.0 565.7,435.8 565.9,470.7 566.1,434.7 566.2,315.1 566.4,373.4 566.5,315.1 566.7,352.5 566.8,403.9 567.0,528.8 567.1,539.5 567.3,423.7 567.4,457.9 567.6,504.2 567.7,389.9 567.9,326.4 568.0,427.9 568.2,415.2 568.3,470.1 568.5,482.6 568.6,435.5 568.8,532.8 568.9,251.0 569.1,461.4 569.2,431.6 569.4,339.5 569.5,343.6 569.7,434.3 569.8,333.2 570.0,489.6 570.1,591.5 570.3,273.5 570.4,472.8 570.6,405.6 570.7,303.3 570.9,495.9 571.0,416.8 571.2,449.5 571.3,519.7 571.5,389.9 571.7,495.7 571.8,339.4 572.0,420.2 572.1,440.2 572.3,418.6 572.4,413.7 572.6,439.2 572.7,417.3 572.9,471.7 573.0,465.1 573.2,380.0 573.3,454.0 573.5,490.9 573.6,421.2 573.8,394.7 573.9,455.5 574.1,411.0 574.2,451.9 574.4,497.9 574.5,347.1 574.7,400.5 574.8,569.2 575.0,304.5 575.1,367.9 575.3,475.2 575.4,333.7 575.6,378.9 575.7,261.1 575.9,473.0 576.0,469.1 576.2,491.6 576.3,467.7 576.5,319.6 576.6,335.4 576.8,521.5 577.0,376.4 577.1,531.2 577.3,412.5 577.4,522.0 577.6,423.5 577.7,484.1 577.9,471.4 578.0,369.1 578.2,404.8 578.3,408.2 578.5,493.4 578.6,363.1 578.8,496.2 578.9,464.3 579.1,303.4 579.2,376.3 579.4,396.5 579.5,470.0 579.7,482.1 579.8,370.5 580.0,452.6 580.1,280.7 580.3,436.4 580.4,502.6 580.6,445.0 580.7,636.0 580.9,475.2 581.0,537.4 581.2,319.7 581.3,537.2 581.5,495.9 581.6,401.3 581.8,523.1 581.9,434.5 582.1,442.7 582.2,441.1 582.4,433.2 582.6,535.9 582.7,466.3 582.9,318.4 583.0,328.1 583.2,468.7 583.3,596.6 583.5,497.4 583.6,263.4 583.8,473.1 583.9,511.1 584.1,384.8 584.2,447.9 584.4,486.0 584.5,354.1 584.7,450.1 584.8,439.6 585.0,439.0 585.1,341.2 585.3,452.3 585.4,423.0 585.6,480.1 585.7,316.9 585.9,449.4 586.0,472.9 586.2,541.6 586.3,343.7 586.5,468.4 586.6,427.4 586.8,454.1 586.9,436.5 587.1,395.4 587.2,483.2 587.4,506.5 587.5,425.0 587.7,312.7 587.9,386.3 588.0,474.7 588.2,318.2 588.3,257.8 588.5,521.4 588.6,400.1 588.8,427.2 588.9,404.7 589.1,485.4 589.2,338.0 589.4,448.9 589.5,330.8 589.7,303.2 589.8,466.7 590.0,375.0 590.1,292.3 590.3,628.0 590.4,360.8 590.6,386.2 590.7,415.5 590.9,319.0 591.0,279.1 591.2,411.8 591.3,458.3 591.5,526.3 591.6,435.3 591.8,405.2 591.9,459.3 592.1,471.6 592.2,440.5 592.4,438.4 592.5,465.3 592.7,370.0 592.8,395.6 593.0,326.6 593.1,373.5 593.3,406.9 593.5,403.0 593.6,406.0 593.8,473.0 593.9,335.4 594.1,416.0 594.2,481.7 594.4,464.6 594.5,516.4 594.7,465.0 594.8,396.7 595.0,327.6 595.1,156.0 595.3,357.2 595.4,350.7 595.6,447.5 595.7,306.0 595.9,529.1 596.0,412.0 596.2,463.6 596.3,359.4 596.5,325.2 596.6,335.6 596.8,367.1 596.9,422.9 597.1,438.1 597.2,431.1 597.4,408.4 597.5,441.9 597.7,307.0 597.8,463.8 598.0,500.1 598.1,295.8 598.3,320.3 598.4,389.3 598.6,446.2 598.7,339.6 598.9,464.7 599.1,448.9 599.2,536.3 599.4,494.4 599.5,399.0 599.7,249.9 599.8,414.2 600.0,421.4 600.1,528.1 600.3,433.1 600.4,441.6 600.6,476.4 600.7,489.9 600.9,503.7 601.0,488.0 601.2,389.9 601.3,419.0 601.5,624.9 601.6,374.8 601.8,279.1 601.9,466.2 602.1,436.1 602.2,450.7 602.4,421.6 602.5,337.1 602.7,434.4 602.8,411.6 603.0,520.4 603.1,546.1 603.3,433.1 603.4,456.5 603.6,406.2 603.7,316.7 603.9,464.3 604.0,478.8 604.2,346.2 604.4,458.2 604.5,251.5 604.7,430.7 604.8,343.9 605.0,473.0 605.1,490.6 605.3,371.7 605.4,332.5 605.6,508.2 605.7,331.1 605.9,461.5 606.0,483.0 606.2,474.9 606.3,394.7 606.5,384.7 606.6,495.7 606.8,406.1 606.9,454.2 607.1,522.8 607.2,292.4 607.4,503.9 607.5,583.4 607.7,520.8 607.8,458.5 608.0,414.9 608.1,409.6 608.3,509.1 608.4,432.1 608.6,395.2 608.7,308.9 608.9,361.2 609.0,340.3 609.2,373.8 609.3,479.1 609.5,450.0 609.6,353.1 609.8,480.9 610.0,518.3 610.1,425.6 610.3,354.0 610.4,489.1 610.6,519.7 610.7,457.3 610.9,322.4 611.0,395.9 611.2,376.9 611.3,244.7 611.5,366.4 611.6,390.0 611.8,473.4 611.9,355.0 612.1,463.2 612.2,471.3 612.4,417.5 612.5,369.9 612.7,453.3 612.8,574.3 613.0,448.0 613.1,399.7 613.3,462.5 613.4,192.5 613.6,378.2 613.7,544.9 613.9,461.0 614.0,375.9 614.2,500.0 614.3,401.1 614.5,371.8 614.6,468.1 614.8,508.7 614.9,329.9 615.1,402.0 615.3,238.6 615.4,385.4 615.6,477.8 615.7,386.5 615.9,359.1 616.0,490.6 616.2,384.5 616.3,346.0 616.5,380.3 616.6,296.0 616.8,498.4 616.9,394.9 617.1,473.3 617.2,335.6 617.4,487.6 617.5,412.8 617.7,445.7 617.8,421.8 618.0,468.6 618.1,388.5 618.3,483.6 618.4,413.3 618.6,374.0 618.7,471.5 618.9,358.2 619.0,384.9 619.2,446.5 619.3,464.6 619.5,425.9 619.6,459.5 619.8,464.5 619.9,432.9 620.1,439.5 620.2,243.8 620.4,313.6 620.5,352.3 620.7,357.1 620.9,382.4 621.0,471.8 621.2,509.5 621.3,440.7 621.5,331.4 621.6,330.4 621.8,542.0 621.9,503.7 622.1,294.0 622.2,313.1 622.4,473.4 622.5,428.2 622.7,418.1 622.8,337.6 623.0,275.1 623.1,376.7 623.3,401.0 623.4,398.9 623.6,341.3 623.7,410.7 623.9,526.6 624.0,352.9 624.2,461.6 624.3,353.3 624.5,401.6 624.6,501.6 624.8,402.4 624.9,473.6 625.1,401.2 625.2,454.7 625.4,344.6 625.5,479.7 625.7,451.7 625.8,478.7 626.0,486.2 626.2,443.7 626.3,405.5 626.5,379.0 626.6,418.0 626.8,458.7 626.9,547.8 627.1,349.7 627.2,462.8 627.4,391.2 627.5,275.8 627.7,305.9 627.8,368.9 628.0,493.4 628.1,395.2 628.3,319.0 628.4,436.1 628.6,556.1 628.7,386.9 628.9,364.2 629.0,549.9 629.2,343.3 629.3,440.5 629.5,429.2 629.6,407.2 629.8,420.9 629.9,355.7 630.1,514.9 630.2,428.7 630.4,496.7 630.5,462.7 630.7,409.7 630.8,489.6 631.0,387.6 631.1,398.5 631.3,341.1 631.4,513.9 631.6,447.7 631.8,434.1 631.9,527.4 632.1,493.9 632.2,545.2 632.4,370.8 632.5,376.6 632.7,309.3 632.8,436.0 633.0,366.0 633.1,336.5 633.3,469.7 633.4,522.7 633.6,487.3 633.7,501.1 633.9,533.9 634.0,368.1 634.2,367.1 634.3,534.9 634.5,509.7 634.6,398.3 634.8,461.7 634.9,404.7 635.1,435.6 635.2,342.5 635.4,337.6 635.5,302.6 635.7,320.5 635.8,461.0 636.0,233.0 636.1,376.9 636.3,501.6 636.4,524.2 636.6,450.0 636.7,320.7 636.9,451.4 637.1,676.5 637.2,379.2 637.4,520.2 637.5,434.0 637.7,529.7 637.8,398.9 638.0,414.1 638.1,368.5 638.3,470.5 638.4,502.8 638.6,461.3 638.7,471.4 638.9,458.9 639.0,392.2 639.2,377.8 639.3,463.4 639.5,324.1 639.6,569.2 639.8,431.4 639.9,495.0 640.1,373.0 640.2,367.3 640.4,421.7 640.5,498.0 640.7,442.0 640.8,378.6 641.0,456.3 641.1,429.9 641.3,384.6 641.4,245.4 641.6,364.1 641.7,348.6 641.9,414.9 642.0,380.2 642.2,463.4 642.3,388.1 642.5,386.1 642.7,465.9 642.8,457.0 643.0,363.8 643.1,399.8 643.3,378.6 643.4,392.3 643.6,469.2 643.7,509.7 643.9,506.8 644.0,533.0 644.2,494.5 644.3,471.0 644.5,496.9 644.6,417.3 644.8,440.9 644.9,395.2 645.1,341.4 645.2,503.7 645.4,442.8 645.5,453.7 645.7,494.9 645.8,521.6 646.0,417.6 646.1,403.1 646.3,445.1 646.4,382.0 646.6,399.8 646.7,350.2 646.9,418.8 647.0,411.0 647.2,342.6 647.3,458.1 647.5,389.3 647.6,351.7 647.8,358.2 648.0,363.3 648.1,377.9 648.3,445.6 648.4,352.7 648.6,464.2 648.7,457.3 648.9,439.8 649.0,383.9 649.2,309.2 649.3,329.4 649.5,332.8 649.6,373.5 649.8,411.0 649.9,495.2 650.1,471.2 650.2,412.1 650.4,303.0 650.5,381.6 650.7,590.5 650.8,381.4 651.0,535.4 651.1,477.8 651.3,386.0 651.4,350.8 651.6,472.2 651.7,383.1 651.9,408.5 652.0,386.9 652.2,323.1 652.3,438.9 652.5,474.1 652.6,299.6 652.8,418.4 652.9,326.4 653.1,477.1 653.2,522.9 653.4,473.2 653.6,353.2 653.7,435.4 653.9,377.8 654.0,474.1 654.2,454.9 654.3,445.3 654.5,527.4 654.6,490.6 654.8,418.0 654.9,393.9 655.1,415.2 655.2,380.4 655.4,327.8 655.5,390.7 655.7,342.7 655.8,401.3 656.0,319.8 656.1,413.2 656.3,246.1 656.4,380.9 656.6,469.5 656.7,409.3 656.9,407.0 657.0,339.4 657.2,445.2 657.3,338.0 657.5,400.9 657.6,421.2 657.8,419.3 657.9,434.8 658.1,396.6 658.2,419.1 658.4,334.9 658.5,405.5 658.7,350.1 658.8,420.8 659.0,413.5 659.2,409.6 659.3,345.9 659.5,502.5 659.6,231.9 659.8,499.3 659.9,442.7 660.1,530.4 660.2,450.1 660.4,307.9 660.5,392.0 660.7,407.9 660.8,441.6 661.0,415.5 661.1,486.3 661.3,276.9 661.4,425.6 661.6,372.9 661.7,416.4 661.9,365.2 662.0,549.8 662.2,327.5 662.3,391.3 662.5,312.3 662.6,386.3 662.8,430.6 662.9,412.5 663.1,521.3 663.2,441.4 663.4,409.5 663.5,412.9 663.7,368.7 663.8,389.2 664.0,508.4 664.1,440.4 664.3,365.4 664.5,565.2 664.6,432.7 664.8,459.9 664.9,386.1 665.1,521.4 665.2,488.1 665.4,407.4 665.5,387.5 665.7,377.1 665.8,315.0 666.0,454.2 666.1,347.8 666.3,460.4 666.4,531.2 666.6,366.1 666.7,447.4 666.9,404.8 667.0,394.3 667.2,383.0 667.3,440.3 667.5,436.4 667.6,524.9 667.8,384.8 667.9,294.3 668.1,424.9 668.2,331.5 668.4,335.9 668.5,324.4 668.7,520.5 668.8,509.9 669.0,447.9 669.1,402.5 669.3,526.0 669.4,356.9 669.6,547.3 669.7,413.0 669.9,498.7 670.1,408.0 670.2,321.4 670.4,507.0 670.5,530.5 670.7,362.6 670.8,500.5 671.0,309.1 671.1,466.5 671.3,409.5 671.4,482.1 671.6,491.1 671.7,367.2 671.9,323.9 672.0,508.0 672.2,347.9 672.3,410.4 672.5,379.9 672.6,440.3 672.8,322.8 672.9,436.8 673.1,379.8 673.2,321.2 673.4,371.5 673.5,446.8 673.7,388.0 673.8,251.0 674.0,445.8 674.1,351.8 674.3,333.8 674.4,539.9 674.6,300.0 674.7,418.5 674.9,436.7 675.0,361.0 675.2,488.4 675.4,564.2 675.5,450.3 675.7,424.9 675.8,396.4 676.0,420.5 676.1,450.3 676.3,342.6 676.4,384.1 676.6,279.1 676.7,363.6 676.9,385.7 677.0,362.0 677.2,470.4 677.3,511.5 677.5,394.2 677.6,522.5 677.8,482.3 677.9,377.4 678.1,473.6 678.2,498.9 678.4,411.8 678.5,393.0 678.7,364.1 678.8,269.7 679.0,544.5 679.1,384.0 679.3,336.2 679.4,461.8 679.6,369.8 679.7,539.8 679.9,484.4 680.0,524.5 680.2,415.5 680.3,523.2 680.5,312.1 680.6,387.9 680.8,419.0 681.0,374.4 681.1,337.1 681.3,396.1 681.4,494.2 681.6,416.1 681.7,459.6 681.9,386.1 682.0,455.3 682.2,570.3 682.3,352.0 682.5,490.9 682.6,434.6 682.8,442.0 682.9,474.5 683.1,504.4 683.2,344.0 683.4,478.7 683.5,477.3 683.7,399.1 683.8,337.4 684.0,430.7 684.1,365.0 684.3,408.5 684.4,394.9 684.6,333.4 684.7,411.0 684.9,476.7 685.0,347.6 685.2,506.7 685.3,446.2 685.5,380.8 685.6,500.2 685.8,409.2 685.9,438.2 686.1,478.4 686.3,612.2 686.4,397.6 686.6,425.0 686.7,388.8 686.9,378.8 687.0,430.6 687.2,375.3 687.3,395.2 687.5,357.4 687.6,462.9 687.8,454.4 687.9,379.1 688.1,374.2 688.2,423.2 688.4,414.9 688.5,357.2 688.7,494.6 688.8,524.7 689.0,368.0 689.1,395.5 689.3,482.0 689.4,446.0 689.6,486.8 689.7,466.4 689.9,332.5 690.0,418.2 690.2,517.2 690.3,386.3 690.5,386.1 690.6,568.2 690.8,427.7 690.9,387.6 691.1,369.5 691.2,430.2 691.4,470.3 691.5,441.4 691.7,355.1 691.9,369.1 692.0,458.0 692.2,490.8 692.3,382.6 692.5,512.1 692.6,351.3 692.8,507.3 692.9,418.8 693.1,315.2 693.2,368.7 693.4,524.1 693.5,386.2 693.7,477.6 693.8,486.7 694.0,419.4 694.1,492.5 694.3,312.7 694.4,258.4 694.6,333.3 694.7,413.7 694.9,410.1 695.0,409.9 695.2,357.6 695.3,309.2 695.5,517.4 695.6,444.1 695.8,304.2 695.9,460.2 696.1,293.2 696.2,377.5 696.4,508.9 696.5,439.3 696.7,569.2 696.8,299.4 697.0,405.4 697.2,382.9 697.3,387.6 697.5,442.8 697.6,393.8 697.8,475.3 697.9,470.6 698.1,500.5 698.2,453.7 698.4,453.7 698.5,408.6 698.7,451.2 698.8,388.8 699.0,515.8 699.1,444.6 699.3,384.2 699.4,446.5 699.6,394.0 699.7,324.6 699.9,336.8 700.0,461.0 700.2,490.2 700.3,419.1 700.5,389.5 700.6,441.0 700.8,374.4 700.9,437.4 701.1,430.3 701.2,200.4 701.4,387.3 701.5,445.9 701.7,398.3 701.8,294.8 702.0,517.4 702.1,402.9 702.3,412.7 702.4,371.2 702.6,518.3 702.8,305.4 702.9,358.4 703.1,231.9 703.2,416.0 703.4,472.7 703.5,402.4 703.7,461.7 703.8,529.0 704.0,295.0 704.1,494.9 704.3,443.9 704.4,435.9 704.6,482.7 704.7,307.2 704.9,407.4 705.0,368.8 705.2,453.6 705.3,456.7 705.5,385.0 705.6,431.2 705.8,303.4 705.9,366.2 706.1,508.9 706.2,547.2 706.4,410.1 706.5,332.4 706.7,509.7 706.8,500.0 707.0,461.4 707.1,419.6 707.3,449.7 707.4,367.1 707.6,446.5 707.7,516.6 707.9,415.6 708.1,526.6 708.2,403.7 708.4,349.4 708.5,468.6 708.7,384.9 708.8,514.7 709.0,442.0 709.1,524.8 709.3,500.9 709.4,355.5 709.6,365.1 709.7,370.2 709.9,423.6 710.0,450.9 710.2,424.0 710.3,457.8 710.5,382.7 710.6,429.7 710.8,406.8 710.9,426.4 711.1,422.1 711.2,512.3 711.4,300.5 711.5,507.5 711.7,507.8 711.8,387.5 712.0,387.8 712.1,505.5 712.3,414.1 712.4,272.4 712.6,496.7 712.7,405.3 712.9,389.4 713.0,555.1 713.2,364.6 713.3,453.1 713.5,444.8 713.7,464.6 713.8,375.7 714.0,405.5 714.1,418.6 714.3,378.6 714.4,409.5 714.6,399.9 714.7,369.3 714.9,279.1 715.0,391.4 715.2,364.7 715.3,335.3 715.5,314.2 715.6,378.5 715.8,483.5 715.9,504.8 716.1,458.9 716.2,393.3 716.4,339.1 716.5,370.0 716.7,544.9 716.8,502.6 717.0,520.9 717.1,461.9 717.3,396.9 717.4,446.3 717.6,300.3 717.7,500.0 717.9,491.0 718.0,546.2 718.2,354.5 718.3,377.4 718.5,440.7 718.6,537.2 718.8,459.6 719.0,320.9 719.1,354.7 719.3,354.5 719.4,304.9 719.6,383.7 719.7,426.8 719.9,353.3 720.0,367.1 720.2,313.6 720.3,384.3 720.5,373.8 720.6,342.2 720.8,421.9 720.9,508.3 721.1,424.7 721.2,414.0 721.4,332.9 721.5,370.3 721.7,461.6 721.8,403.6 722.0,445.5 722.1,461.0 722.3,357.4 722.4,504.6 722.6,337.5 722.7,449.0 722.9,387.6 723.0,453.5 723.2,573.3 723.3,471.6 723.5,354.7 723.6,322.5 723.8,412.5 723.9,472.5 724.1,461.7 724.2,271.3 724.4,476.9 724.6,479.7 724.7,543.1 724.9,380.8 725.0,440.8 725.2,475.5 725.3,366.6 725.5,405.7 725.6,492.9 725.8,304.2 725.9,333.7 726.1,420.3 726.2,359.0 726.4,499.2 726.5,390.2 726.7,464.4 726.8,412.4 727.0,407.9 727.1,399.5 727.3,329.5 727.4,396.3 727.6,549.7 727.7,184.6 727.9,504.3 728.0,393.2 728.2,442.6 728.3,393.3 728.5,460.0 728.6,478.0 728.8,339.5 728.9,601.6 729.1,440.3 729.2,549.5 729.4,520.6 729.5,512.7 729.7,426.6 729.8,495.3 730.0,334.8 730.2,361.5 730.3,434.5 730.5,487.1 730.6,460.4 730.8,398.3 730.9,420.2 731.1,280.3 731.2,327.0 731.4,448.8 731.5,432.5 731.7,583.4 731.8,400.0 732.0,334.7 732.1,459.8 732.3,482.0 732.4,368.9 732.6,411.6 732.7,358.2 732.9,363.9 733.0,365.1 733.2,497.4 733.3,429.4 733.5,463.7 733.6,458.1 733.8,412.0 733.9,300.6 734.1,382.5 734.2,485.8 734.4,425.0 734.5,484.5 734.7,482.6 734.8,442.9 735.0,548.3 735.1,393.3 735.3,509.8 735.5,435.5 735.6,484.2 735.8,368.0 735.9,358.4 736.1,259.0 736.2,426.6 736.4,547.9 736.5,504.9 736.7,386.9 736.8,469.7 737.0,447.1 737.1,381.3 737.3,376.7 737.4,480.5 737.6,387.9 737.7,270.1 737.9,557.1 738.0,449.0 738.2,441.8 738.3,456.3 738.5,382.0 738.6,444.7 738.8,360.9 738.9,380.6 739.1,384.3 739.2,535.5 739.4,475.4 739.5,460.1 739.7,369.0 739.8,441.8 740.0,347.9 740.1,482.0 740.3,355.6 740.4,421.7 740.6,451.4 740.7,357.2 740.9,360.1 741.1,377.3 741.2,432.1 741.4,340.9 741.5,329.6 741.7,446.7 741.8,413.6 742.0,543.1 742.1,476.4 742.3,200.4 742.4,498.4 742.6,396.2 742.7,424.9 742.9,295.6 743.0,411.2 743.2,460.1 743.3,455.8 743.5,389.5 743.6,375.3 743.8,386.3 743.9,324.7 744.1,402.6 744.2,404.9 744.4,473.4 744.5,405.7 744.7,278.0 744.8,395.4 745.0,400.3 745.1,299.2 745.3,478.9 745.4,564.2 745.6,523.5 745.7,460.4 745.9,383.9 746.0,434.6 746.2,477.8 746.4,511.9 746.5,441.0 746.7,375.0 746.8,337.7 747.0,327.7 747.1,368.3 747.3,399.0 747.4,472.7 747.6,398.5 747.7,310.3 747.9,413.8 748.0,365.9 748.2,421.7 748.3,386.4 748.5,581.4 748.6,526.7 748.8,502.4 748.9,341.9 749.1,357.6 749.2,366.8 749.4,439.0 749.5,487.0 749.7,395.4 749.8,303.2 750.0,415.1 750.1,326.3 750.3,422.7 750.4,404.5 750.6,546.5 750.7,395.8 750.9,597.6 751.0,508.0 751.2,398.3 751.3,376.9 751.5,410.2 751.6,481.1 751.8,444.0 752.0,451.5 752.1,388.7 752.3,347.8 752.4,424.9 752.6,454.8 752.7,457.5 752.9,374.1 753.0,415.9 753.2,389.2 753.3,518.4 753.5,503.0 753.6,458.5 753.8,495.7 753.9,362.8 754.1,269.7 754.2,463.4 754.4,507.9 754.5,369.2 754.7,457.3 754.8,421.5 755.0,379.6 755.1,422.7 755.3,433.5 755.4,364.2 755.6,393.1 755.7,413.0 755.9,453.5 756.0,261.1 756.2,481.0 756.3,306.7 756.5,400.0 756.6,387.1 756.8,474.6 756.9,440.2 757.1,368.5 757.3,398.2 757.4,444.1 757.6,474.6 757.7,515.1 757.9,369.0 758.0,485.0 758.2,507.3 758.3,343.9 758.5,452.1 758.6,341.3 758.8,338.7 758.9,390.2 759.1,440.6 759.2,399.4 759.4,342.2 759.5,465.5 759.7,435.5 759.8,363.4 760.0,288.1 760.1,376.1 760.3,334.9 760.4,508.1 760.6,398.3 760.7,415.7 760.9,508.2 761.0,409.9 761.2,443.1 761.3,487.1 761.5,451.6 761.6,502.2 761.8,390.3 761.9,389.4 762.1,361.8 762.2,413.9 762.4,405.1 762.5,566.2 762.7,370.0 762.9,473.3 763.0,376.8 763.2,459.5 763.3,485.5 763.5,390.7 763.6,291.0 763.8,353.3 763.9,458.8 764.1,536.1 764.2,545.4 764.4,399.3 764.5,408.7 764.7,463.7 764.8,434.9 765.0,335.0 765.1,200.4 765.3,424.5 765.4,517.3 765.6,366.1 765.7,480.0 765.9,468.8 766.0,583.4 766.2,505.2 766.3,438.5 766.5,422.7 766.6,390.5 766.8,296.7 766.9,423.4 767.1,379.3 767.2,429.5 767.4,346.3 767.5,331.0 767.7,362.0 767.8,323.6 768.0,508.4 768.2,410.2 768.3,397.1 768.5,288.8 768.6,415.7 768.8,397.5 768.9,500.8 769.1,438.8 769.2,484.8 769.4,335.6 769.5,455.0 769.7,429.4 769.8,356.2 770.0,432.7 770.1,335.9 770.3,583.4 770.4,360.1 770.6,505.2 770.7,423.3 770.9,543.6 771.0,493.1 771.2,482.8 771.3,487.4 771.5,509.4 771.6,383.5 771.8,367.9 771.9,384.1 772.1,482.3 772.2,355.5 772.4,368.8 772.5,241.6 772.7,389.5 772.8,415.7 773.0,365.8 773.1,409.0 773.3,439.1 773.4,351.5 773.6,449.5 773.8,350.2 773.9,386.1 774.1,265.6 774.2,462.2 774.4,437.5 774.5,336.7 774.7,490.8 774.8,352.1 775.0,438.2 775.1,410.8 775.3,388.1 775.4,395.3 775.6,429.2 775.7,469.9 775.9,580.4 776.0,369.6 776.2,408.3 776.3,507.5 776.5,451.6 776.6,440.4 776.8,454.4 776.9,303.2 777.1,351.9 777.2,310.2 777.4,462.4 777.5,514.6 777.7,426.2 777.8,485.2 778.0,405.0 778.1,338.8 778.3,331.0 778.4,364.1 778.6,324.8 778.7,526.0 778.9,396.8 779.1,522.0 779.2,496.1 779.4,277.6 779.5,402.7 779.7,297.1 779.8,413.1 780.0,342.4 780.1,476.9 780.3,452.0 780.4,443.3 780.6,377.7 780.7,488.9 780.9,497.6 781.0,500.9 781.2,378.2 781.3,393.1 781.5,453.3 781.6,350.2 781.8,434.0 781.9,475.8 782.1,481.5 782.2,473.6 782.4,409.4 782.5,369.1 782.7,384.0 782.8,313.3 783.0,452.2 783.1,258.4 783.3,586.4 783.4,303.6 783.6,489.7 783.7,427.0 783.9,464.3 784.0,381.2 784.2,451.1 784.3,364.1 784.5,348.1 784.7,457.5 784.8,457.7 785.0,364.0 785.1,344.0 785.3,403.8 785.4,301.0 785.6,388.9 785.7,411.2 785.9,519.7 786.0,636.0 786.2,333.3 786.3,486.0 786.5,377.6 786.6,361.5 786.8,351.3 786.9,314.8 787.1,283.0 787.2,531.0 787.4,406.3 787.5,398.0 787.7,428.8 787.8,537.6 788.0,412.5 788.1,534.1 788.3,484.6 788.4,387.3 788.6,429.9 788.7,335.5 788.9,357.1 789.0,355.0 789.2,359.3 789.3,617.8 789.5,432.2 789.6,308.8 789.8,340.3 789.9,483.4 790.1,389.6 790.3,346.7 790.4,317.4 790.6,387.4 790.7,359.5 790.9,474.1 791.0,444.0 791.2,421.2 791.3,511.7 791.5,422.0 791.6,444.9 791.8,524.4 791.9,381.3 792.1,480.2 792.2,456.3 792.4,352.3 792.5,478.9 792.7,321.4 792.8,388.1 793.0,495.4 793.1,450.9 793.3,416.0 793.4,486.6 793.6,526.2 793.7,534.3 793.9,467.7 794.0,463.9 794.2,410.3 794.3,532.5 794.5,468.6 794.6,476.9 794.8,488.6 794.9,328.8 795.1,402.5 795.2,408.6 795.4,365.3 795.6,395.4 795.7,332.2 795.9,338.3 796.0,398.3 796.2,493.0 796.3,441.8 796.5,401.5 796.6,401.8 796.8,366.7 796.9,395.0 797.1,390.0 797.2,501.4 797.4,525.2 797.5,381.3 797.7,461.0 797.8,361.4 798.0,349.9 798.1,567.2 798.3,548.7 798.4,500.6 798.6,400.4 798.7,466.9 798.9,500.5 799.0,310.9 799.2,605.7 799.3,443.9 799.5,529.8 799.6,293.8 799.8,499.4 799.9,428.0 800.1,488.4 800.2,549.3 800.4,364.0 800.5,512.6 800.7,385.6 800.8,315.3 801.0,503.2 801.2,264.5 801.3,425.0 801.5,445.6 801.6,444.6 801.8,449.4 801.9,488.2 802.1,492.1 802.2,348.0 802.4,334.3 802.5,501.6 802.7,337.8 802.8,305.6 803.0,449.2 803.1,382.8 803.3,512.2 803.4,271.7 803.6,565.2 803.7,300.8 803.9,534.9 804.0,432.0 804.2,438.9 804.3,364.0 804.5,442.6 804.6,446.7 804.8,423.5 804.9,462.8 805.1,383.2 805.2,383.1 805.4,498.8 805.5,362.0 805.7,398.8 805.8,432.2 806.0,353.2 806.1,331.7 806.3,489.6 806.5,453.7 806.6,414.4 806.8,305.4 806.9,393.9 807.1,405.3 807.2,490.9 807.4,442.9 807.5,353.4 807.7,596.6 807.8,415.1 808.0,357.9 808.1,485.2 808.3,480.1 808.4,433.5 808.6,317.1 808.7,429.0 808.9,474.4 809.0,352.6 809.2,395.1 809.3,383.4 809.5,410.4 809.6,349.2 809.8,505.7 809.9,364.2 810.1,479.4 810.2,589.5 810.4,487.1 810.5,477.8 810.7,437.5 810.8,192.1 811.0,426.8 811.1,483.7 811.3,447.5 811.4,464.5 811.6,387.7 811.7,480.4 811.9,466.8 812.1,531.9 812.2,502.8 812.4,346.7 812.5,495.9 812.7,407.8 812.8,453.9 813.0,497.2 813.1,400.2 813.3,619.9 813.4,527.5 813.6,397.5 813.7,367.1 813.9,448.2 814.0,428.7 814.2,421.5 814.3,407.7 814.5,518.6 814.6,466.1 814.8,393.0 814.9,486.7 815.1,429.3 815.2,428.1 815.4,488.3 815.5,412.6 815.7,330.7 815.8,489.2 816.0,474.1 816.1,435.5 816.3,524.1 816.4,472.8 816.6,547.2 816.7,458.7 816.9,398.5 817.0,363.5 817.2,300.8 817.4,435.4 817.5,355.3 817.7,446.6 817.8,483.4 818.0,376.9 818.1,442.9 818.3,376.0 818.4,401.5 818.6,503.2 818.7,513.5 818.9,508.0 819.0,476.6 819.2,358.6 819.3,431.2 819.5,322.7 819.6,383.8 819.8,436.6 819.9,492.5 820.1,466.6 820.2,346.2 820.4,330.9 820.5,441.0 820.7,299.9 820.8,427.2 821.0,423.8 821.1,342.4 821.3,421.0 821.4,458.9 821.6,451.1 821.7,366.1 821.9,428.2 822.0,423.5 822.2,336.9 822.3,602.6 822.5,482.3 822.6,365.7 822.8,401.4 823.0,312.7 823.1,358.9 823.3,203.8 823.4,349.1 823.6,451.8 823.7,498.8 823.9,405.0 824.0,383.0 824.2,349.0 824.3,424.2 824.5,417.8 824.6,371.3 824.8,427.6 824.9,309.6 825.1,539.9 825.2,522.3 825.4,443.7 825.5,344.6 825.7,429.1 825.8,528.9 826.0,367.7 826.1,510.5 826.3,332.4 826.4,600.6 826.6,316.9 826.7,334.4 826.9,345.5 827.0,372.0 827.2,446.1 827.3,429.8 827.5,420.9 827.6,408.1 827.8,463.7 827.9,478.7 828.1,322.9 828.3,512.7 828.4,346.6 828.6,580.4 828.7,500.4 828.9,242.7 829.0,430.7 829.2,319.7 829.3,465.1 829.5,331.5 829.6,474.6 829.8,522.1 829.9,298.5 830.1,485.7 830.2,519.3 830.4,419.4 830.5,446.0 830.7,338.5 830.8,488.6 831.0,455.5 831.1,366.3 831.3,477.6 831.4,349.1 831.6,346.2 831.7,492.7 831.9,517.0 832.0,478.2 832.2,477.7 832.3,493.3 832.5,423.2 832.6,431.7 832.8,438.9 832.9,512.1 833.1,329.5 833.2,538.7 833.4,464.3 833.5,364.9 833.7,377.2 833.9,438.3 834.0,353.9 834.2,448.1 834.3,327.0 834.5,346.8 834.6,481.6 834.8,360.3 834.9,281.4 835.1,394.2 835.2,333.9 835.4,488.2 835.5,320.6 835.7,443.4 835.8,342.9 836.0,389.9 836.1,466.5 836.3,531.9 836.4,521.1 836.6,400.3 836.7,510.3 836.9,462.1 837.0,442.0 837.2,562.2 837.3,458.4 837.5,377.6 837.6,340.3 837.8,387.8 837.9,374.7 838.1,382.8 838.2,458.0 838.4,408.3 838.5,372.3 838.7,415.9 838.8,253.9 839.0,330.9 839.2,417.1 839.3,510.8 839.5,395.6 839.6,367.7 839.8,319.8 839.9,487.8 840.1,543.5 840.2,386.2 840.4,410.0 840.5,381.5 840.7,307.1 840.8,358.4 841.0,345.4 841.1,465.0 841.3,555.1 841.4,381.1 841.6,461.3 841.7,529.7 841.9,395.0 842.0,515.9 842.2,346.4 842.3,368.2 842.5,424.9 842.6,486.3 842.8,350.2 842.9,460.5 843.1,525.2 843.2,484.3 843.4,513.2 843.5,297.4 843.7,452.5 843.8,367.2 844.0,458.8 844.1,488.8 844.3,499.9 844.4,458.1 844.6,403.2 844.8,315.5 844.9,491.0 845.1,419.7 845.2,445.4 845.4,429.2 845.5,511.5 845.7,542.9 845.8,463.0 846.0,424.7 846.1,243.6 846.3,307.2 846.4,457.6 846.6,536.3 846.7,451.1 846.9,349.4 847.0,329.4 847.2,400.9 847.3,445.2 847.5,391.9 847.6,452.4 847.8,311.9 847.9,350.2 848.1,491.1 848.2,408.8 848.4,511.4 848.5,413.3 848.7,549.1 848.8,554.1 849.0,329.2 849.1,323.6 849.3,533.8 849.4,417.9 849.6,542.7 849.7,336.7 849.9,390.1 850.1,192.5 850.2,504.8 850.4,378.2 850.5,373.8 850.7,416.5 850.8,393.7 851.0,481.7 851.1,445.9 851.3,414.8 851.4,376.9 851.6,535.0 851.7,472.8 851.9,359.6 852.0,429.1 852.2,345.7 852.3,318.0 852.5,331.1 852.6,330.3 852.8,587.5 852.9,480.4 853.1,309.4 853.2,370.2 853.4,342.5 853.5,365.0 853.7,396.8 853.8,389.4 854.0,269.7 854.1,387.7 854.3,406.3 854.4,438.2 854.6,403.4 854.7,366.7 854.9,492.4 855.0,394.2 855.2,309.6 855.3,653.9 855.5,404.1 855.7,423.2 855.8,538.8 856.0,311.9 856.1,459.0 856.3,418.8 856.4,448.7 856.6,453.9 856.7,475.0 856.9,485.2 857.0,350.3 857.2,317.0 857.3,403.3 857.5,229.6 857.6,427.8 857.8,526.0 857.9,397.9 858.1,439.5 858.2,575.3 858.4,381.3 858.5,443.4 858.7,323.7 858.8,338.8 859.0,276.4 859.1,416.1 859.3,380.7 859.4,397.8 859.6,442.8 859.7,320.4 859.9,430.2 860.0,469.8 860.2,393.2 860.3,441.1 860.5,457.1 860.6,363.8 860.8,494.0 860.9,503.8 861.1,399.2 861.3,400.9 861.4,449.0 861.6,559.1 861.7,504.8 861.9,344.3 862.0,365.8 862.2,297.5 862.3,462.5 862.5,336.3 862.6,494.7 862.8,413.9 862.9,442.9 863.1,316.7 863.2,388.8 863.4,490.6 863.5,391.6 863.7,408.3 863.8,427.7 864.0,401.1 864.1,485.7 864.3,516.8 864.4,469.1 864.6,453.8 864.7,467.2 864.9,372.4 865.0,437.4 865.2,447.7 865.3,326.8 865.5,353.6 865.6,486.1 865.8,357.2 865.9,345.2 866.1,495.2 866.2,433.5 866.4,367.8 866.6,353.4 866.7,487.2 866.9,331.5 867.0,380.3 867.2,502.4 867.3,442.7 867.5,347.1 867.6,392.0 867.8,362.7 867.9,531.5 868.1,308.5 868.2,269.7 868.4,408.9 868.5,524.9 868.7,306.7 868.8,431.7 869.0,641.7 869.1,432.5 869.3,357.8 869.4,419.4 869.6,393.8 869.7,548.4 869.9,477.3 870.0,374.3 870.2,350.5 870.3,481.9 870.5,461.4 870.6,412.4 870.8,394.6 870.9,424.9 871.1,420.0 871.2,342.6 871.4,484.8 871.5,509.6 871.7,484.8 871.8,426.9 872.0,402.3 872.2,342.2 872.3,352.3 872.5,471.6 872.6,399.4 872.8,340.1 872.9,539.9 873.1,586.4 873.2,534.2 873.4,375.6 873.5,423.9 873.7,498.8 873.8,383.0 874.0,453.4 874.1,346.6 874.3,254.4 874.4,396.6 874.6,544.7 874.7,387.2 874.9,455.3 875.0,368.9 875.2,486.5 875.3,507.9 875.5,361.6 875.6,399.1 875.8,331.3 875.9,437.2 876.1,403.8 876.2,363.6 876.4,491.8 876.5,424.4 876.7,434.7 876.8,473.9 877.0,355.4 877.1,602.6 877.3,363.1 877.5,355.0 877.6,390.6 877.8,361.6 877.9,521.2 878.1,537.6 878.2,308.3 878.4,455.3 878.5,370.8 878.7,335.8 878.8,393.0 879.0,358.4 879.1,529.2 879.3,538.1 879.4,524.2 879.6,475.6 879.7,352.1 879.9,457.5 880.0,499.7 880.2,343.0 880.3,271.3 880.5,383.3 880.6,347.9 880.8,456.6 880.9,306.3 881.1,484.9 881.2,353.6 881.4,500.3 881.5,435.4 881.7,413.6 881.8,368.3 882.0,316.7 882.1,576.3 882.3,329.1 882.4,489.0 882.6,355.3 882.7,397.7 882.9,304.9 883.1,464.0 883.2,393.2 883.4,483.4 883.5,368.3 883.7,313.3 883.8,418.8 884.0,500.3 884.1,433.3 884.3,339.7 884.4,390.5 884.6,371.0 884.7,492.0 884.9,496.6 885.0,521.4 885.2,400.6 885.3,525.2 885.5,391.6 885.6,407.2 885.8,435.7 885.9,312.9 886.1,380.7 886.2,497.0 886.4,366.2 886.5,433.6 886.7,477.0 886.8,329.4 887.0,390.6 887.1,242.0 887.3,478.5 887.4,294.6 887.6,432.1 887.7,299.4 887.9,359.6 888.0,343.4 888.2,433.7 888.4,464.1 888.5,296.7 888.7,307.8 888.8,405.6 889.0,480.5 889.1,501.2 889.3,445.9 889.4,431.3 889.6,508.6 889.7,508.0 889.9,374.5 890.0,315.8 890.2,387.2 890.3,614.8 890.5,308.0 890.6,527.9 890.8,436.2 890.9,456.9 891.1,468.0 891.2,506.3 891.4,339.1 891.5,373.0 891.7,442.2 891.8,295.7 892.0,368.1 892.1,438.3 892.3,504.0 892.4,334.9 892.6,437.6 892.7,396.4 892.9,452.8 893.0,332.2 893.2,377.2 893.3,253.3 893.5,409.1 893.6,352.2 893.8,380.3 894.0,371.6 894.1,546.3 894.3,323.4 894.4,333.9 894.6,366.0 894.7,446.3 894.9,418.3 895.0,514.7 895.2,463.3 895.3,364.8 895.5,431.7 895.6,469.3 895.8,398.1 895.9,431.9 896.1,513.3 896.2,382.3 896.4,458.6 896.5,416.7 896.7,327.3 896.8,400.1 897.0,315.3 897.1,378.7 897.3,613.8 897.4,486.7 897.6,414.3 897.7,509.9 897.9,269.0 898.0,304.2 898.2,439.8 898.3,431.4 898.5,401.9 898.6,352.5 898.8,377.1 898.9,346.5 899.1,408.0 899.3,300.0 899.4,349.0 899.6,466.3 899.7,363.1 899.9,390.2 900.0,364.1 900.2,334.1 900.3,425.8 900.5,468.8 900.6,371.0 900.8,224.0 900.9,421.0 901.1,374.2 901.2,402.8 901.4,423.4 901.5,486.6 901.7,448.0 901.8,379.3 902.0,496.0 902.1,464.7 902.3,421.9 902.4,248.8 902.6,370.9 902.7,430.7 902.9,448.5 903.0,441.4 903.2,454.8 903.3,528.4 903.5,332.2 903.6,396.8 903.8,369.4 903.9,419.0 904.1,358.5 904.2,441.1 904.4,369.6 904.5,473.2 904.7,332.2 904.9,518.1 905.0,370.1 905.2,402.1 905.3,361.0 905.5,443.2 905.6,480.0 905.8,465.7 905.9,444.5 906.1,566.2 906.2,500.8 906.4,276.9 906.5,409.3 906.7,453.8 906.8,436.6 907.0,461.7 907.1,308.0 907.3,333.8 907.4,367.0 907.6,424.3 907.7,504.9 907.9,449.4 908.0,455.7 908.2,482.1 908.3,357.9 908.5,442.5 908.6,486.5 908.8,520.2 908.9,324.6 909.1,353.1 909.2,425.4 909.4,391.3 909.5,430.0 909.7,369.7 909.8,398.3 910.0,457.4 910.2,471.8 910.3,525.7 910.5,449.7 910.6,341.2 910.8,356.5 910.9,238.6 911.1,389.6 911.2,472.2 911.4,482.9 911.5,471.9 911.7,471.6 911.8,381.9 912.0,386.4 912.1,445.1 912.3,380.4 912.4,490.0 912.6,419.0 912.7,342.6 912.9,448.6 913.0,428.2 913.2,534.8 913.3,437.6 913.5,387.4 913.6,461.6 913.8,317.5 913.9,375.1 914.1,416.2 914.2,353.8 914.4,333.4 914.5,332.2 914.7,504.9 914.8,480.5 915.0,420.0 915.1,483.6 915.3,396.5 915.4,311.2 915.6,407.2 915.8,546.3 915.9,513.4 916.1,328.0 916.2,431.7 916.4,413.1 916.5,387.4 916.7,462.0 916.8,378.6 917.0,655.9 917.1,421.1 917.3,452.6 917.4,406.2 917.6,351.7 917.7,435.1 917.9,428.6 918.0,535.5 918.2,357.3 918.3,475.4 918.5,353.4 918.6,383.0 918.8,327.9 918.9,390.2 919.1,497.8 919.2,374.5 919.4,329.5 919.5,420.3 919.7,478.9 919.8,512.8 920.0,305.9 920.1,441.3 920.3,396.4 920.4,357.7 920.6,397.8 920.7,381.2 920.9,432.1 921.0,367.0 921.2,344.1 921.4,429.4 921.5,395.1 921.7,616.8 921.8,400.7 922.0,319.7 922.1,392.4 922.3,452.5 922.4,426.1 922.6,248.8 922.7,444.3 922.9,323.8 923.0,302.8 923.2,472.1 923.3,366.3 923.5,404.8 923.6,322.9 923.8,389.1 923.9,392.2 924.1,371.9 924.2,586.4 924.4,464.0 924.5,388.4 924.7,486.5 924.8,307.4 925.0,394.2 925.1,463.0 925.3,318.2 925.4,328.7 925.6,455.1 925.7,504.3 925.9,361.2 926.0,327.8 926.2,402.2 926.3,453.3 926.5,520.7 926.7,360.8 926.8,534.6 927.0,372.6 927.1,381.3 927.3,402.2 927.4,444.5 927.6,435.4 927.7,415.6 927.9,486.3 928.0,373.1 928.2,314.4 928.3,201.5 928.5,380.9 928.6,416.9 928.8,439.3 928.9,530.5 929.1,577.3 929.2,352.9 929.4,362.5 929.5,433.3 929.7,471.5 929.8,406.4 930.0,494.0 930.1,426.4 930.3,380.9 930.4,361.1 930.6,405.3 930.7,418.9 930.9,372.0 931.0,410.9 931.2,512.4 931.3,432.9 931.5,420.8 931.6,238.6 931.8,385.9 931.9,409.7 932.1,478.7 932.3,320.1 932.4,455.6 932.6,402.0 932.7,431.6 932.9,487.3 933.0,377.9 933.2,402.4 933.3,364.2 933.5,391.6 933.6,415.9 933.8,439.5 933.9,518.9 934.1,379.7 934.2,479.9 934.4,487.4 934.5,471.8 934.7,386.0 934.8,445.5 935.0,444.0 935.1,448.8 935.3,424.3 935.4,449.7 935.6,484.9 935.7,576.3 935.9,348.3 936.0,383.9 936.2,425.1 936.3,479.5 936.5,482.2 936.6,457.1 936.8,257.1 936.9,526.3 937.1,337.8 937.2,367.6 937.4,498.0 937.6,415.4 937.7,510.7 937.9,449.4 938.0,532.7 938.2,407.1 938.3,343.1 938.5,478.0 938.6,455.4 938.8,397.6 938.9,417.1 939.1,412.3 939.2,462.5 939.4,419.7 939.5,311.5 939.7,513.9 939.8,450.5 940.0,601.6 940.1,535.1 940.3,536.4 940.4,449.5 940.6,466.5 940.7,404.0 940.9,488.0 941.0,417.9 941.2,509.9 941.3,418.8 941.5,353.5 941.6,472.9 941.8,465.0 941.9,315.0 942.1,495.0 942.2,513.4 942.4,447.9 942.5,494.8 942.7,433.7 942.8,462.7 943.0,352.2 943.2,492.5 943.3,618.8 943.5,434.2 943.6,334.4 943.8,461.5 943.9,411.5 944.1,409.3 944.2,459.8 944.4,428.1 944.5,268.6 944.7,366.7 944.8,460.7 945.0,356.6 945.1,428.6 945.3,510.2 945.4,447.2 945.6,325.6 945.7,505.0 945.9,419.0 946.0,416.6 946.2,355.2 946.3,476.3 946.5,334.1 946.6,460.9 946.8,369.0 946.9,342.7 947.1,292.1 947.2,539.2 947.4,501.8 947.5,312.5 947.7,545.6 947.8,465.0 948.0,401.7 948.1,289.7 948.3,417.2 948.5,384.5 948.6,632.0 948.8,435.9 948.9,327.4 949.1,418.2 949.2,358.3 949.4,345.2 949.5,359.1 949.7,430.0 949.8,379.1 950.0,429.5 950.1,436.2 950.3,488.9 950.4,346.3 950.6,497.6 950.7,519.3 950.9,435.0 951.0,465.9 951.2,228.5 951.3,402.2 951.5,494.2 951.6,535.1 951.8,479.4 951.9,319.7 952.1,472.8 952.2,476.3 952.4,381.9 952.5,478.4 952.7,478.6 952.8,363.7 953.0,444.8 953.1,411.5 953.3,335.7 953.4,280.3 953.6,357.4 953.7,386.9 953.9,451.3 954.1,496.6 954.2,379.9 954.4,393.4 954.5,443.3 954.7,374.3 954.8,342.3 955.0,358.3 955.1,480.7 955.3,392.1 955.4,352.5 955.6,530.7 955.7,365.6 955.9,405.2 956.0,495.8 956.2,454.5 956.3,455.5 956.5,478.6 956.6,450.6 956.8,296.4 956.9,436.6 957.1,483.4 957.2,396.2 957.4,479.1 957.5,386.4 957.7,373.0 957.8,384.9 958.0,341.0 958.1,504.0 958.3,346.4 958.4,519.2 958.6,409.7 958.7,446.2 958.9,403.0 959.0,473.8 959.2,407.9 959.4,342.8 959.5,441.5 959.7,413.9 959.8,406.8 960.0,425.6 960.1,377.1 960.3,537.8 960.4,303.2 960.6,273.5 960.7,370.9 960.9,428.1 961.0,360.6 961.2,555.1 961.3,354.5 961.5,472.2 961.6,395.5 961.8,368.8 961.9,368.8 962.1,357.4 962.2,389.7 962.4,533.2 962.5,342.7 962.7,398.2 962.8,400.5 963.0,537.8 963.1,424.4 963.3,230.3 963.4,389.7 963.6,408.7 963.7,339.5 963.9,510.1 964.0,531.0 964.2,464.2 964.3,403.3 964.5,383.1 964.6,407.4 964.8,411.5 965.0,405.2 965.1,284.3 965.3,448.2 965.4,295.0 965.6,527.2 965.7,515.2 965.9,396.3 966.0,414.3 966.2,584.4 966.3,319.7 966.5,389.9 966.6,456.2 966.8,292.2 966.9,392.0 967.1,402.1 967.2,467.7 967.4,327.5 967.5,361.0 967.7,330.7 967.8,352.4 968.0,418.8 968.1,355.1 968.3,401.8 968.4,396.6 968.6,494.7 968.7,461.8 968.9,377.3 969.0,378.1 969.2,398.3 969.3,400.3 969.5,329.3 969.6,441.7 969.8,394.5 969.9,436.3 970.1,360.5 970.3,249.4 970.4,305.3 970.6,377.4 970.7,388.2 970.9,449.2 971.0,478.7 971.2,431.3 971.3,478.1 971.5,467.5 971.6,453.5 971.8,495.2 971.9,358.7 972.1,391.6 972.2,609.7 972.4,508.5 972.5,450.0 972.7,263.4 972.8,407.7 973.0,415.6 973.1,342.4 973.3,409.5 973.4,359.1 973.6,309.5 973.7,389.5 973.9,373.3 974.0,270.1 974.2,424.7 974.3,464.0 974.5,536.5 974.6,490.9 974.8,460.0 974.9,493.8 975.1,487.6 975.2,481.5 975.4,319.8 975.5,314.6 975.7,476.7 975.9,487.5 976.0,395.6 976.2,413.0 976.3,469.7 976.5,489.8 976.6,354.2 976.8,350.3 976.9,330.6 977.1,517.9 977.2,316.3 977.4,466.2 977.5,510.7 977.7,355.5 977.8,426.9 978.0,279.1 978.1,441.4 978.3,335.7 978.4,504.1 978.6,484.4 978.7,475.3 978.9,582.4 979.0,455.9 979.2,328.3 979.3,401.2 979.5,505.1 979.6,510.4 979.8,517.6 979.9,535.0 980.1,384.3 980.2,515.8 980.4,474.0 980.5,421.6 980.7,445.4 980.8,416.5 981.0,369.0 981.2,385.2 981.3,516.0 981.5,423.1 981.6,548.5 981.8,447.4 981.9,389.2 982.1,451.9 982.2,388.8 982.4,316.0 982.5,315.4 982.7,451.6 982.8,480.2 983.0,432.8 983.1,341.2 983.3,455.0 983.4,439.1 983.6,375.3 983.7,497.3 983.9,496.4 984.0,568.2 984.2,323.7 984.3,290.0 984.5,315.0 984.6,389.7 984.8,329.3 984.9,473.8 985.1,492.1 985.2,457.2 985.4,498.8 985.5,307.5 985.7,445.9 985.8,343.8 986.0,397.1 986.1,469.6 986.3,343.6 986.4,377.7 986.6,392.6 986.8,423.2 986.9,400.6 987.1,378.3 987.2,366.8 987.4,445.3 987.5,460.0 987.7,518.9 987.8,431.9 988.0,394.2 988.1,317.0 988.3,269.0 988.4,466.4 988.6,467.7 988.7,444.5 988.9,483.2 989.0,487.9 989.2,636.4 989.3,516.9 989.5,467.5 989.6,386.9 989.8,360.7 989.9,417.9 990.1,376.0 990.2,449.4 990.4,419.3 990.5,421.6 990.7,514.9 990.8,403.0 991.0,238.6 991.1,457.0 991.3,424.2 991.4,421.7 991.6,413.3 991.7,300.4 991.9,400.7 992.0,591.5 992.2,310.2 992.4,332.4 992.5,491.8 992.7,391.6 992.8,488.2 993.0,418.5 993.1,304.6 993.3,234.6 993.4,451.3 993.6,532.6 993.7,392.0 993.9,429.4 994.0,358.4 994.2,365.4 994.3,362.8 994.5,332.1 994.6,433.8 994.8,317.5 994.9,433.0 995.1,334.1 995.2,511.1 995.4,405.1 995.5,440.2 995.7,445.6 995.8,352.9 996.0,486.1 996.1,521.7 996.3,412.1 996.4,385.6 996.6,491.0 996.7,412.4 996.9,520.7 997.0,271.3 997.2,424.4 997.3,386.7 997.5,386.2 997.7,437.6 997.8,502.9 998.0,468.3 998.1,386.9 998.3,458.5 998.4,472.5 998.6,402.5 998.7,358.0 998.9,412.4 999.0,380.0 999.2,499.9 999.3,439.4 999.5,345.3 999.6,413.2 999.8,377.1 999.9,445.1 1000.1,325.6 1000.2,475.2 1000.4,487.5 1000.5,529.3 1000.7,400.0 1000.8,432.9 1001.0,360.0 1001.1,460.4 1001.3,370.1 1001.4,418.8 1001.6,494.6 1001.7,475.0 1001.9,344.7 1002.0,388.8 1002.2,459.3 1002.3,603.7 1002.5,518.7 1002.6,532.9 1002.8,381.8 1002.9,338.3 1003.1,392.9 1003.3,506.9 1003.4,432.2 1003.6,429.7 1003.7,426.9 1003.9,529.4 1004.0,388.4 1004.2,437.9 1004.3,512.4 1004.5,434.9 1004.6,520.0 1004.8,614.2 1004.9,405.6 1005.1,366.5 1005.2,547.2 1005.4,374.2 1005.5,365.1 1005.7,482.8 1005.8,483.5 1006.0,449.5 1006.1,441.2 1006.3,379.4 1006.4,450.2 1006.6,445.5 1006.7,540.3 1006.9,439.9 1007.0,516.2 1007.2,498.5 1007.3,387.5 1007.5,466.0 1007.6,426.3 1007.8,442.9 1007.9,364.8 1008.1,395.9 1008.2,264.1 1008.4,325.7 1008.6,352.2 1008.7,437.9 1008.9,346.6 1009.0,473.3 1009.2,411.2 1009.3,410.3 1009.5,373.1 1009.6,465.5 1009.8,463.3 1009.9,426.7 1010.1,412.9 1010.2,419.1 1010.4,423.7 1010.5,469.8 1010.7,434.1 1010.8,596.0 1011.0,365.6 1011.1,347.6 1011.3,383.4 1011.4,360.5 1011.6,492.3 1011.7,490.8 1011.9,470.7 1012.0,372.4 1012.2,355.4 1012.3,357.9 1012.5,410.0 1012.6,401.8 1012.8,363.4 1012.9,477.0 1013.1,277.6 1013.2,393.8 1013.4,310.3 1013.5,377.3 1013.7,424.4 1013.8,461.3 1014.0,411.7 1014.2,397.2 1014.3,370.7 1014.5,387.0 1014.6,489.6 1014.8,397.7 1014.9,417.4 1015.1,503.8 1015.2,323.3 1015.4,409.3 1015.5,504.7 1015.7,398.1 1015.8,425.5 1016.0,475.4 1016.1,367.8 1016.3,274.6 1016.4,399.1 1016.6,495.6 1016.7,426.2 1016.9,427.8 1017.0,430.4 1017.2,376.6 1017.3,403.7 1017.5,441.2 1017.6,538.6 1017.8,372.5 1017.9,441.9 1018.1,410.1 1018.2,337.0 1018.4,359.6 1018.5,407.9 1018.7,493.5 1018.8,489.7 1019.0,525.8 1019.1,466.2 1019.3,291.0 1019.5,591.9 1019.6,424.4 1019.8,416.8 1019.9,379.3 1020.1,333.9 1020.2,438.6 1020.4,362.2 1020.5,432.8 1020.7,430.4 1020.8,446.3 1021.0,427.7 1021.1,419.3 1021.3,407.3 1021.4,474.6 1021.6,437.2 1021.7,446.1 1021.9,405.1 1022.0,439.7 1022.2,381.9 1022.3,382.1 1022.5,247.6 1022.6,315.8 1022.8,433.1 1022.9,346.0 1023.1,540.3 1023.2,345.2 1023.4,381.2 1023.5,378.4 1023.7,411.3 1023.8,448.2 1024.0,445.4 1024.1,467.5 1024.3,442.1 1024.4,483.8 1024.6,390.3 1024.7,451.8 1024.9,636.0 1025.1,469.6 1025.2,386.9 1025.4,415.3 1025.5,434.8 1025.7,512.4 1025.8,322.6 1026.0,452.1 1026.1,521.3 1026.3,319.5 1026.4,490.2 1026.6,493.9 1026.7,409.5 1026.9,537.8 1027.0,588.5 1027.2,465.7 1027.3,340.5 1027.5,422.9 1027.6,438.9 1027.8,325.1 1027.9,407.1 1028.1,400.7 1028.2,390.0 1028.4,518.2 1028.5,458.7 1028.7,414.2 1028.8,345.6 1029.0,374.4 1029.1,435.6 1029.3,437.1 1029.4,488.4 1029.6,536.5 1029.7,495.6 1029.9,427.2 1030.0,404.6 1030.2,439.7 1030.4,399.3 1030.5,411.5 1030.7,405.0 1030.8,257.3 1031.0,430.9 1031.1,384.5 1031.3,378.5 1031.4,404.0 1031.6,402.9 1031.7,494.1 1031.9,487.4 1032.0,536.3 1032.2,418.6 1032.3,389.2 1032.5,387.2 1032.6,427.3 1032.8,487.1 1032.9,410.2 1033.1,342.2 1033.2,328.1 1033.4,475.3 1033.5,460.9 1033.7,345.8 1033.8,294.1 1034.0,477.7 1034.1,487.0 1034.3,538.1 1034.4,434.9 1034.6,482.3 1034.7,381.9 1034.9,312.7 1035.0,407.2 1035.2,317.8 1035.3,363.8 1035.5,417.9 1035.6,365.4 1035.8,364.7 1036.0,419.9 1036.1,472.7 1036.3,618.8 1036.4,405.3 1036.6,248.8 1036.7,472.6 1036.9,434.7 1037.0,329.4 1037.2,462.3 1037.3,348.9 1037.5,504.9 1037.6,449.9 1037.8,441.3 1037.9,310.7 1038.1,415.0 1038.2,522.9 1038.4,522.9 1038.5,369.6 1038.7,380.3 1038.8,458.4 1039.0,357.2 1039.1,476.6 1039.3,392.4 1039.4,472.9 1039.6,411.9 1039.7,517.5 1039.9,392.2 1040.0,341.0 1040.2,436.5 1040.3,376.5 1040.5,483.1 1040.6,585.4 1040.8,406.6 1040.9,357.7 1041.1,416.6 1041.3,461.9 1041.4,514.2 1041.6,432.9 1041.7,515.2 1041.9,360.2 1042.0,443.3 1042.2,404.2 1042.3,441.8 1042.5,445.2 1042.6,424.1 1042.8,226.3 1042.9,398.2 1043.1,529.7 1043.2,341.3 1043.4,504.3 1043.5,440.8 1043.7,377.7 1043.8,431.6 1044.0,495.4 1044.1,481.3 1044.3,460.5 1044.4,310.5 1044.6,529.2 1044.7,341.7 1044.9,528.7 1045.0,464.3 1045.2,384.6 1045.3,484.8 1045.5,429.6 1045.6,446.0 1045.8,498.7 1045.9,296.6 1046.1,435.8 1046.2,304.7 1046.4,555.1 1046.5,339.5 1046.7,423.4 1046.9,432.4 1047.0,336.9 1047.2,352.6 1047.3,327.2 1047.5,359.0 1047.6,441.9 1047.8,457.6 1047.9,463.3 1048.1,515.0 1048.2,345.2 1048.4,361.1 1048.5,397.1 1048.7,454.5 1048.8,485.2 1049.0,454.4 1049.1,439.7 1049.3,382.9 1049.4,373.1 1049.6,547.3 1049.7,415.4 1049.9,410.2 1050.0,398.7 1050.2,506.2 1050.3,403.7 1050.5,447.9 1050.6,383.4 1050.8,394.7 1050.9,369.5 1051.1,309.7 1051.2,233.7 1051.4,378.5 1051.5,351.1 1051.7,488.2 1051.8,462.2 1052.0,424.2 1052.1,447.8 1052.3,584.4 1052.5,418.1 1052.6,520.0 1052.8,499.7 1052.9,370.8 1053.1,422.8 1053.2,346.5 1053.4,371.8 1053.5,526.5 1053.7,426.3 1053.8,394.6 1054.0,251.0 1054.1,438.8 1054.3,468.8 1054.4,375.4 1054.6,460.6 1054.7,371.3 1054.9,472.5 1055.0,391.4 1055.2,543.8 1055.3,347.0 1055.5,508.2 1055.6,413.8 1055.8,435.3 1055.9,526.0 1056.1,492.8 1056.2,390.9 1056.4,476.3 1056.5,379.4 1056.7,460.7 1056.8,401.1 1057.0,472.0 1057.1,362.7 1057.3,457.3 1057.4,520.9 1057.6,400.8 1057.8,347.2 1057.9,476.9 1058.1,430.5 1058.2,451.2 1058.4,350.2 1058.5,476.4 1058.7,489.1 1058.8,479.4 1059.0,362.1 1059.1,436.9 1059.3,357.0 1059.4,439.5 1059.6,421.0 1059.7,495.8 1059.9,431.7 1060.0,548.6 1060.2,412.7 1060.3,504.6 1060.5,419.5 1060.6,411.7 1060.8,380.5 1060.9,429.8 1061.1,459.4 1061.2,224.5 1061.4,324.6 1061.5,393.7 1061.7,505.8 1061.8,386.0 1062.0,495.9 1062.1,353.6 1062.3,446.0 1062.4,583.8 1062.6,295.0 1062.7,326.9 1062.9,386.8 1063.0,441.3 1063.2,520.3 1063.4,351.4 1063.5,425.7 1063.7,425.6 1063.8,465.6 1064.0,512.3 1064.1,520.7 1064.3,417.0 1064.4,431.7 1064.6,369.9 1064.7,426.7 1064.9,495.9 1065.0,291.4 1065.2,384.1 1065.3,247.6 1065.5,475.7 1065.6,376.5 1065.8,424.7 1065.9,455.8 1066.1,384.5 1066.2,519.7 1066.4,373.7 1066.5,529.6 1066.7,513.4 1066.8,369.9 1067.0,504.5 1067.1,423.3 1067.3,467.0 1067.4,406.1 1067.6,482.2 1067.7,387.0 1067.9,499.0 1068.0,424.7 1068.2,451.6 1068.3,516.3 1068.5,573.3 1068.7,474.0 1068.8,486.8 1069.0,350.9 1069.1,355.9 1069.3,391.0 1069.4,298.5 1069.6,477.6 1069.7,371.4 1069.9,406.5 1070.0,397.9 1070.2,427.1 1070.3,487.1 1070.5,374.1 1070.6,340.5 1070.8,402.3 1070.9,409.1 1071.1,410.1 1071.2,534.0 1071.4,426.6 1071.5,270.1 1071.7,400.2 1071.8,309.8 1072.0,407.9 1072.1,498.1 1072.3,392.3 1072.4,375.1 1072.6,461.4 1072.7,378.8 1072.9,363.1 1073.0,471.3 1073.2,364.1 1073.3,349.2 1073.5,522.1 1073.6,424.2 1073.8,366.4 1073.9,414.7 1074.1,365.7 1074.3,459.9 1074.4,527.5 1074.6,412.8 1074.7,434.3 1074.9,402.2 1075.0,315.1 1075.2,394.2 1075.3,457.0 1075.5,474.0 1075.6,424.9 1075.8,368.2 1075.9,365.6 1076.1,431.5 1076.2,452.3 1076.4,407.3 1076.5,514.6 1076.7,508.0 1076.8,480.8 1077.0,201.5 1077.1,427.2 1077.3,398.3 1077.4,384.5 1077.6,372.4 1077.7,437.8 1077.9,540.3 1078.0,442.8 1078.2,589.5 1078.3,394.6 1078.5,478.8 1078.6,443.7 1078.8,521.0 1078.9,509.3 1079.1,428.2 1079.2,351.6 1079.4,532.9 1079.6,345.7 1079.7,444.1 1079.9,496.7 1080.0,370.8 1080.2,447.0 1080.3,408.9 1080.5,438.4 1080.6,437.1 1080.8,438.2 1080.9,384.5 1081.1,493.3 1081.2,331.6 1081.4,358.3 1081.5,371.2 1081.7,393.7 1081.8,406.2 1082.0,333.7 1082.1,361.0 1082.3,403.2 1082.4,393.8 1082.6,310.0 1082.7,306.4 1082.9,319.0 1083.0,436.0 1083.2,317.7 1083.3,248.8 1083.5,358.5 1083.6,378.7 1083.8,424.8 1083.9,373.5 1084.1,365.2 1084.2,442.8 1084.4,411.3 1084.5,503.6 1084.7,416.7 1084.8,488.5 1085.0,388.5 1085.2,412.7 1085.3,348.8 1085.5,465.0 1085.6,351.2 1085.8,324.7 1085.9,397.7 1086.1,450.2 1086.2,378.0 1086.4,522.6 1086.5,410.2 1086.7,274.6 1086.8,406.9 1087.0,335.2 1087.1,484.8 1087.3,425.4 1087.4,457.8 1087.6,410.6 1087.7,530.3 1087.9,366.4 1088.0,418.5 1088.2,509.9 1088.3,353.0 1088.5,442.3 1088.6,431.8 1088.8,536.4 1088.9,389.2 1089.1,485.7 1089.2,450.9 1089.4,523.8 1089.5,407.5 1089.7,330.3 1089.8,518.6 1090.0,491.6 1090.1,427.7 1090.3,372.8 1090.5,473.3 1090.6,387.7 1090.8,295.0 1090.9,394.0 1091.1,479.8 1091.2,341.8 1091.4,498.8 1091.5,459.7 1091.7,383.6 1091.8,392.2 1092.0,420.3 1092.1,422.4 1092.3,612.2 1092.4,330.3 1092.6,421.4 1092.7,318.7 1092.9,472.6 1093.0,426.8 1093.2,425.2 1093.3,369.5 1093.5,541.8 1093.6,361.6 1093.8,452.3 1093.9,472.5 1094.1,236.4 1094.2,485.8 1094.4,380.7 1094.5,495.1 1094.7,393.5 1094.8,386.2 1095.0,384.5 1095.1,295.3 1095.3,500.9 1095.4,346.9 1095.6,507.0 1095.7,562.2 1095.9,444.7 1096.1,476.8 1096.2,356.9 1096.4,421.9 1096.5,459.9 1096.7,327.5 1096.8,463.6 1097.0,432.3 1097.1,438.7 1097.3,225.1 1097.4,460.3 1097.6,536.9 1097.7,376.9 1097.9,509.3 1098.0,481.5 1098.2,401.6 1098.3,451.6 1098.5,530.1 1098.6,424.1 1098.8,520.1 1098.9,413.0 1099.1,523.2 1099.2,453.7 1099.4,300.0 1099.5,496.3 1099.7,420.6 1099.8,349.9 1100.0,346.7 1100.1,377.5 1100.3,425.5 1100.4,342.3 1100.6,456.6 1100.7,307.9 1100.9,407.6 1101.0,356.1 1101.2,385.3 1101.4,461.2 1101.5,391.8 1101.7,359.2 1101.8,351.6 1102.0,485.1 1102.1,467.1 1102.3,416.0 1102.4,495.5 1102.6,390.0 1102.7,425.4 1102.9,405.2 1103.0,357.1 1103.2,301.1 1103.3,432.1 1103.5,611.3 1103.6,472.4 1103.8,471.5 1103.9,361.8 1104.1,388.3 1104.2,373.8 1104.4,303.8 1104.5,256.2 1104.7,347.9 1104.8,390.6 1105.0,460.2 1105.1,463.1 1105.3,448.6 1105.4,415.4 1105.6,358.1 1105.7,352.8 1105.9,400.5 1106.0,350.9 1106.2,403.9 1106.3,398.4 1106.5,432.3 1106.6,454.4 1106.8,312.4 1107.0,463.3 1107.1,363.6 1107.3,405.8 1107.4,441.0 1107.6,372.4 1107.7,409.8 1107.9,411.2 1108.0,440.9 1108.2,429.7 1108.3,535.5 1108.5,477.5 1108.6,428.7 1108.8,363.2 1108.9,315.0 1109.1,397.9 1109.2,521.3 1109.4,483.0 1109.5,393.4 1109.7,463.2 1109.8,513.9 1110.0,587.5 1110.1,423.1 1110.3,288.8 1110.4,499.3 1110.6,433.7 1110.7,379.5 1110.9,375.7 1111.0,345.8 1111.2,386.6 1111.3,414.3 1111.5,360.6 1111.6,425.9 1111.8,311.1 1111.9,465.4 1112.1,343.7 1112.3,543.4 1112.4,371.0 1112.6,476.3 1112.7,448.3 1112.9,443.6 1113.0,472.7 1113.2,519.4 1113.3,405.3 1113.5,454.1 1113.6,537.7 1113.8,339.3 1113.9,308.1 1114.1,427.4 1114.2,439.4 1114.4,524.8 1114.5,394.7 1114.7,506.5 1114.8,358.4 1115.0,435.4 1115.1,385.1 1115.3,495.3 1115.4,471.3 1115.6,395.3 1115.7,512.4 1115.9,363.2 1116.0,489.4 1116.2,400.5 1116.3,498.9 1116.5,358.9 1116.6,543.4 1116.8,427.8 1116.9,431.5 1117.1,415.7 1117.2,488.6 1117.4,413.2 1117.5,513.9 1117.7,445.8 1117.9,416.4 1118.0,417.6 1118.2,502.1 1118.3,521.0 1118.5,489.2 1118.6,456.0 1118.8,468.9 1118.9,400.1 1119.1,359.2 1119.2,390.6 1119.4,597.6 1119.5,335.6 1119.7,502.1 1119.8,458.1 1120.0,446.9 1120.1,423.9 1120.3,465.5 1120.4,341.1 1120.6,462.3 1120.7,473.5 1120.9,475.3 1121.0,391.9 1121.2,488.3 1121.3,443.3 1121.5,535.0 1121.6,341.4 1121.8,421.0 1121.9,384.7 1122.1,398.3 1122.2,478.4 1122.4,471.5 1122.5,365.6 1122.7,445.7 1122.8,452.2 1123.0,445.9 1123.1,417.1 1123.3,324.9 1123.5,395.2 1123.6,356.0 1123.8,510.9 1123.9,504.6 1124.1,330.9 1124.2,388.6 1124.4,399.8 1124.5,438.7 1124.7,306.9 1124.8,394.9 1125.0,454.7 1125.1,455.2 1125.3,648.2 1125.4,356.6 1125.6,374.6 1125.7,380.8 1125.9,330.2 1126.0,387.4 1126.2,415.1 1126.3,369.8 1126.5,196.6 1126.6,353.4 1126.8,507.7 1126.9,364.4 1127.1,356.8 1127.2,442.4 1127.4,583.4 1127.5,532.3 1127.7,410.5 1127.8,397.1 1128.0,371.6 1128.1,454.9 1128.3,469.7 1128.4,347.5 1128.6,431.3 1128.8,413.3 1128.9,438.1 1129.1,462.0 1129.2,322.7 1129.4,320.9 1129.5,443.1 1129.7,386.0 1129.8,416.6 1130.0,427.8 1130.1,344.1 1130.3,428.3 1130.4,360.3 1130.6,250.6 1130.7,303.1 1130.9,430.9 1131.0,410.3 1131.2,383.2 1131.3,331.4 1131.5,506.5 1131.6,450.9 1131.8,398.1 1131.9,454.0 1132.1,477.1 1132.2,497.1 1132.4,446.1 1132.5,404.0 1132.7,334.7 1132.8,275.8 1133.0,497.6 1133.1,412.2 1133.3,342.5 1133.4,466.9 1133.6,428.9 1133.7,364.1 1133.9,473.0 1134.0,434.2 1134.2,419.9 1134.4,383.9 1134.5,418.4 1134.7,403.7 1134.8,456.3 1135.0,429.1 1135.1,347.7 1135.3,381.2 1135.4,431.2 1135.6,384.0 1135.7,537.1 1135.9,471.9 1136.0,393.8 1136.2,414.6 1136.3,328.9 1136.5,413.9 1136.6,390.3 1136.8,412.3 1136.9,406.1 1137.1,437.5 1137.2,443.1 1137.4,539.0 1137.5,403.6 1137.7,501.0 1137.8,348.7 1138.0,439.2 1138.1,435.3 1138.3,459.9 1138.4,437.7 1138.6,338.0 1138.7,431.2 1138.9,618.8 1139.0,453.6 1139.2,504.3 1139.3,479.9 1139.5,363.3 1139.7,388.3 1139.8,396.6 1140.0,437.8 1140.1,405.4 1140.3,356.8 1140.4,408.1 1140.6,406.7 1140.7,534.1 1140.9,471.4 1141.0,476.6 1141.2,492.1 1141.3,275.8 1141.5,290.9 1141.6,324.5 1141.8,382.6 1141.9,500.0 1142.1,378.2 1142.2,303.8 1142.4,508.1 1142.5,485.0 1142.7,481.2 1142.8,544.3 1143.0,448.1 1143.1,443.0 1143.3,364.1 1143.4,392.3 1143.6,465.2 1143.7,361.0 1143.9,436.1 1144.0,424.8 1144.2,351.0 1144.3,346.9 1144.5,409.1 1144.6,470.3 1144.8,335.4 1144.9,452.5 1145.1,525.1 1145.3,333.0 1145.4,362.4 1145.6,421.1 1145.7,386.7 1145.9,457.0 1146.0,490.8 1146.2,427.4 1146.3,390.0 1146.5,443.1 1146.6,485.7 1146.8,313.6 1146.9,356.0 1147.1,350.8 1147.2,328.5 1147.4,475.1 1147.5,441.4 1147.7,395.2 1147.8,361.4 1148.0,597.6 1148.1,325.6 1148.3,394.6 1148.4,357.3 1148.6,308.8 1148.7,377.2 1148.9,489.0 1149.0,515.4 1149.2,467.7 1149.3,428.2 1149.5,425.4 1149.6,454.3 1149.8,401.3 1149.9,414.4 1150.1,382.3 1150.2,455.4 1150.4,342.6 1150.6,370.4 1150.7,397.9 1150.9,415.8 1151.0,380.2 1151.2,297.8 1151.3,357.8 1151.5,243.8 1151.6,453.9 1151.8,375.1 1151.9,438.7 1152.1,455.3 1152.2,340.9 1152.4,402.4 1152.5,393.0 1152.7,420.0 1152.8,487.2 1153.0,481.6 1153.1,387.1 1153.3,374.7 1153.4,284.3 1153.6,506.8 1153.7,458.9 1153.9,426.5 1154.0,536.5 1154.2,433.5 1154.3,408.0 1154.5,422.8 1154.6,516.4 1154.8,448.2 1154.9,477.8 1155.1,523.2 1155.2,530.6 1155.4,428.3 1155.5,482.4 1155.7,433.5 1155.8,413.9 1156.0,402.5 1156.2,425.5 1156.3,475.1 1156.5,367.3 1156.6,386.2 1156.8,380.8 1156.9,393.4 1157.1,573.3 1157.2,383.2 1157.4,440.3 1157.5,420.1 1157.7,355.9 1157.8,445.3 1158.0,265.0 1158.1,390.5 1158.3,471.4 1158.4,527.7 1158.6,399.3 1158.7,452.2 1158.9,338.7 1159.0,421.6 1159.2,530.2 1159.3,374.9 1159.5,324.8 1159.6,423.6 1159.8,484.6 1159.9,437.3 1160.1,270.1 1160.2,489.8 1160.4,440.7 1160.5,373.5 1160.7,528.1 1160.8,349.8 1161.0,475.6 1161.1,405.4 1161.3,323.2 1161.5,508.7 1161.6,424.6 1161.8,392.4 1161.9,360.4 1162.1,491.5 1162.2,325.8 1162.4,477.4 1162.5,406.4 1162.7,514.5 1162.8,436.1 1163.0,369.6 1163.1,444.5 1163.3,354.7 1163.4,408.9 1163.6,379.4 1163.7,387.6 1163.9,457.8 1164.0,314.8 1164.2,405.6 1164.3,407.4 1164.5,400.4 1164.6,585.8 1164.8,443.8 1164.9,472.1 1165.1,498.6 1165.2,401.8 1165.4,406.8 1165.5,416.5 1165.7,408.2 1165.8,542.1 1166.0,394.8 1166.1,527.1 1166.3,459.4 1166.4,471.1 1166.6,545.8 1166.7,384.5 1166.9,319.0 1167.1,450.8 1167.2,376.8 1167.4,491.9 1167.5,386.0 1167.7,314.8 1167.8,372.9 1168.0,517.7 1168.1,415.2 1168.3,454.5 1168.4,446.7 1168.6,299.0 1168.7,472.4 1168.9,492.1 1169.0,378.0 1169.2,499.7 1169.3,521.4 1169.5,400.1 1169.6,542.2 1169.8,274.6 1169.9,483.7 1170.1,392.7 1170.2,410.4 1170.4,326.3 1170.5,387.9 1170.7,449.1 1170.8,414.9 1171.0,370.9 1171.1,408.5 1171.3,368.8 1171.4,329.9 1171.6,468.8 1171.7,369.0 1171.9,390.8 1172.0,450.6 1172.2,325.3 1172.4,499.7 1172.5,445.9 1172.7,450.6 1172.8,542.6 1173.0,350.4 1173.1,441.5 1173.3,534.7 1173.4,478.8 1173.6,492.2 1173.7,329.8 1173.9,380.1 1174.0,342.0 1174.2,408.0 1174.3,574.3 1174.5,505.2 1174.6,376.6 1174.8,454.6 1174.9,389.2 1175.1,433.9 1175.2,518.9 1175.4,320.1 1175.5,456.8 1175.7,398.2 1175.8,410.5 1176.0,414.3 1176.1,380.9 1176.3,374.3 1176.4,375.1 1176.6,417.6 1176.7,385.1 1176.9,486.5 1177.0,528.6 1177.2,301.8 1177.3,381.8 1177.5,415.0 1177.6,314.0 1177.8,333.4 1178.0,420.3 1178.1,538.8 1178.3,450.9 1178.4,368.1 1178.6,404.2 1178.7,341.1 1178.9,422.1 1179.0,344.4 1179.2,469.7 1179.3,395.8 1179.5,450.0 1179.6,382.9 1179.8,371.3 1179.9,346.4 1180.1,407.6 1180.2,369.8 1180.4,387.0 1180.5,479.0 1180.7,424.1 1180.8,340.5 1181.0,397.6 1181.1,318.4 1181.3,433.1 1181.4,639.7 1181.6,437.4 1181.7,336.9 1181.9,527.6 1182.0,479.7 1182.2,548.3 1182.3,366.0 1182.5,518.5 1182.6,445.9 1182.8,362.0 1182.9,443.1 1183.1,513.1 1183.2,485.7 1183.4,441.5 1183.6,432.0 1183.7,460.7 1183.9,393.1 1184.0,504.6 1184.2,549.6 1184.3,445.4 1184.5,399.7 1184.6,431.1 1184.8,449.3 1184.9,442.9 1185.1,364.1 1185.2,370.3 1185.4,221.3 1185.5,377.3 1185.7,408.2 1185.8,504.9 1186.0,455.6 1186.1,598.6 1186.3,502.1 1186.4,316.8 1186.6,395.0 1186.7,307.7 1186.9,353.4 1187.0,403.9 1187.2,447.9 1187.3,414.1 1187.5,466.0 1187.6,504.8 1187.8,508.7 1187.9,400.1 1188.1,534.2 1188.2,437.7 1188.4,548.3 1188.5,334.6 1188.7,433.0 1188.9,441.4 1189.0,403.8 1189.2,458.2 1189.3,542.1 1189.5,463.5 1189.6,316.4 1189.8,400.3 1189.9,340.3 1190.1,288.8 1190.2,403.3 1190.4,437.6 1190.5,329.5 1190.7,416.5 1190.8,513.1 1191.0,539.2 1191.1,483.7 1191.3,403.2 1191.4,452.0 1191.6,455.8 1191.7,525.5 1191.9,464.7 1192.0,416.6 1192.2,404.1 1192.3,495.9 1192.5,455.7 1192.6,342.8 1192.8,329.1 1192.9,515.6 1193.1,433.5 1193.2,387.5 1193.4,426.6 1193.5,359.8 1193.7,393.5 1193.8,380.5 1194.0,348.0 1194.1,450.9 1194.3,397.2 1194.5,525.3 1194.6,390.5 1194.8,328.0 1194.9,428.9 1195.1,420.7 1195.2,543.1 1195.4,426.0 1195.5,477.5 1195.7,307.3 1195.8,447.7 1196.0,508.9 1196.1,422.9 1196.3,519.9 1196.4,380.2 1196.6,448.1 1196.7,315.2 1196.9,316.4 1197.0,435.0 1197.2,372.3 1197.3,351.6 1197.5,322.9 1197.6,445.0 1197.8,517.0 1197.9,338.8 1198.1,379.6 1198.2,474.3 1198.4,345.7 1198.5,543.4 1198.7,453.0 1198.8,594.5 1199.0,446.2 1199.1,424.4 1199.3,504.0 1199.4,348.7 1199.6,381.9 1199.8,376.1 1199.9,331.2 1200.1,332.1 1200.2,407.0 1200.4,407.7 1200.5,471.5 1200.7,392.5 1200.8,447.6 1201.0,413.9 1201.1,389.5 1201.3,512.4 1201.4,316.6 1201.6,360.2 1201.7,368.1 1201.9,513.2 1202.0,415.1 1202.2,511.3 1202.3,487.9 1202.5,501.1 1202.6,432.3 1202.8,414.5 1202.9,428.3 1203.1,399.9 1203.2,287.5 1203.4,342.4 1203.5,347.3 1203.7,476.0 1203.8,391.6 1204.0,478.8 1204.1,495.5 1204.3,426.6 1204.4,355.3 1204.6,443.3 1204.7,402.0 1204.9,401.4 1205.0,599.6 1205.2,406.7 1205.4,548.2 1205.5,475.6 1205.7,493.2 1205.8,506.1 1206.0,470.3 1206.1,406.3 1206.3,348.6 1206.4,326.2 1206.6,382.5 1206.7,489.5 1206.9,385.2 1207.0,547.5 1207.2,360.1 1207.3,360.8 1207.5,498.4 1207.6,401.6 1207.8,400.1 1207.9,412.1 1208.1,295.8 1208.2,411.9 1208.4,528.4 1208.5,526.9 1208.7,343.4 1208.8,465.9 1209.0,408.2 1209.1,461.7 1209.3,382.0 1209.4,433.2 1209.6,257.8 1209.7,418.6 1209.9,402.3 1210.0,448.1 1210.2,471.5 1210.3,337.9 1210.5,432.0 1210.7,418.9 1210.8,449.0 1211.0,328.5 1211.1,373.6 1211.3,438.8 1211.4,543.0 1211.6,475.0 1211.7,413.5 1211.9,332.4 1212.0,352.8 1212.2,495.2 1212.3,386.9 1212.5,388.3 1212.6,281.0 1212.8,375.0 1212.9,342.2 1213.1,369.7 1213.2,331.5 1213.4,344.6 1213.5,444.3 1213.7,379.7 1213.8,608.7 1214.0,363.5 1214.1,346.0 1214.3,499.2 1214.4,400.1 1214.6,482.3 1214.7,269.7 1214.9,329.2 1215.0,333.8 1215.2,433.8 1215.3,385.4 1215.5,441.6 1215.6,386.3 1215.8,506.6 1215.9,356.9 1216.1,393.3 1216.3,486.2 1216.4,338.8 1216.6,454.6 1216.7,533.3 1216.9,423.7 1217.0,403.6 1217.2,366.8 1217.3,433.9 1217.5,343.4 1217.6,392.5 1217.8,483.3 1217.9,437.1 1218.1,318.8 1218.2,335.8 1218.4,332.5 1218.5,479.0 1218.7,361.0 1218.8,460.6 1219.0,359.8 1219.1,372.4 1219.3,515.5 1219.4,354.2 1219.6,458.0 1219.7,518.1 1219.9,510.4 1220.0,365.4 1220.2,468.3 1220.3,479.9 1220.5,466.8 1220.6,515.3 1220.8,468.7 1220.9,496.6 1221.1,302.7 1221.2,326.0 1221.4,416.5 1221.6,336.6 1221.7,373.7 1221.9,436.5 1222.0,424.2 1222.2,434.3 1222.3,301.2 1222.5,350.2 1222.6,454.2 1222.8,504.8 1222.9,497.8 1223.1,412.6 1223.2,383.7 1223.4,398.0 1223.5,493.8 1223.7,405.8 1223.8,364.2 1224.0,401.2 1224.1,509.7 1224.3,511.0 1224.4,464.6 1224.6,439.8 1224.7,484.9 1224.9,421.4 1225.0,413.2 1225.2,413.6 1225.3,492.2 1225.5,302.6 1225.6,436.9 1225.8,530.6 1225.9,497.3 1226.1,336.1 1226.2,538.9 1226.4,413.4 1226.5,345.0 1226.7,405.4 1226.8,535.7 1227.0,427.9 1227.2,432.4 1227.3,451.7 1227.5,486.6 1227.6,374.8 1227.8,406.9 1227.9,352.1 1228.1,359.4 1228.2,486.5 1228.4,470.4 1228.5,294.5 1228.7,428.0 1228.8,329.1 1229.0,307.0 1229.1,420.5 1229.3,581.4 1229.4,471.7 1229.6,488.7 1229.7,339.5 1229.9,377.5 1230.0,461.6 1230.2,346.2 1230.3,366.2 1230.5,463.3 1230.6,329.3 1230.8,458.1 1230.9,422.8 1231.1,398.9 1231.2,624.9 1231.4,321.1 1231.5,350.9 1231.7,441.6 1231.8,339.5 1232.0,441.3 1232.1,489.2 1232.3,343.7 1232.5,362.2 1232.6,308.4 1232.8,306.6 1232.9,434.0 1233.1,511.8 1233.2,542.3 1233.4,383.6 1233.5,383.6 1233.7,426.1 1233.8,438.3 1234.0,350.8 1234.1,506.3 1234.3,356.3 1234.4,411.4 1234.6,326.7 1234.7,477.3 1234.9,522.9 1235.0,407.8 1235.2,349.1 1235.3,447.7 1235.5,326.7 1235.6,391.8 1235.8,430.9 1235.9,429.5 1236.1,441.4 1236.2,429.5 1236.4,433.0 1236.5,382.4 1236.7,530.7 1236.8,466.1 1237.0,510.6 1237.1,312.3 1237.3,429.5 1237.4,341.5 1237.6,543.7 1237.7,477.1 1237.9,425.7 1238.1,426.5 1238.2,349.1 1238.4,439.0 1238.5,525.0 1238.7,351.0 1238.8,378.1 1239.0,530.5 1239.1,363.7 1239.3,422.6 1239.4,418.4 1239.6,453.0 1239.7,471.8 1239.9,495.0 1240.0,422.8 1240.2,477.8 1240.3,462.2 1240.5,384.5 1240.6,448.1 1240.8,540.2 1240.9,505.3 1241.1,352.8 1241.2,297.3 1241.4,428.0 1241.5,456.0 1241.7,456.8 1241.8,236.4 1242.0,420.4 1242.1,435.4 1242.3,434.5 1242.4,432.6 1242.6,378.4 1242.7,335.0 1242.9,457.7 1243.0,486.8 1243.2,418.4 1243.4,406.3 1243.5,426.5 1243.7,334.5 1243.8,372.5 1244.0,317.9 1244.1,330.0 1244.3,354.2 1244.4,480.6 1244.6,437.8 1244.7,415.5 1244.9,402.6 1245.0,499.9 1245.2,382.8 1245.3,508.7 1245.5,372.3 1245.6,313.5 1245.8,400.2 1245.9,397.4 1246.1,241.6 1246.2,411.0 1246.4,481.3 1246.5,502.6 1246.7,467.2 1246.8,389.8 1247.0,480.7 1247.1,346.5 1247.3,475.2 1247.4,524.3 1247.6,473.6 1247.7,389.7 1247.9,443.7 1248.0,380.1 1248.2,380.5 1248.3,440.3 1248.5,391.4 1248.6,388.6 1248.8,344.5 1249.0,402.1 1249.1,480.7 1249.3,345.6 1249.4,408.9 1249.6,405.3 1249.7,468.2 1249.9,470.3 1250.0,442.9 1250.2,465.5 1250.3,597.6 1250.5,291.4 1250.6,503.0 1250.8,521.7 1250.9,484.7 1251.1,389.7 1251.2,320.5 1251.4,256.2 1251.5,376.8 1251.7,318.1 1251.8,429.3 1252.0,512.8 1252.1,344.5 1252.3,414.3 1252.4,391.2 1252.6,371.1 1252.7,404.1 1252.9,449.7 1253.0,504.6 1253.2,303.3 1253.3,371.7 1253.5,367.8 1253.6,478.0 1253.8,366.1 1253.9,572.3 1254.1,486.6 1254.2,298.3 1254.4,314.7 1254.6,352.5 1254.7,457.9 1254.9,374.8 1255.0,514.7 1255.2,364.8 1255.3,304.8 1255.5,431.7 1255.6,340.1 1255.8,447.7 1255.9,516.6 1256.1,429.7 1256.2,461.7 1256.4,300.2 1256.5,475.1 1256.7,481.7 1256.8,458.7 1257.0,483.2 1257.1,433.0 1257.3,251.7 1257.4,301.7 1257.6,423.6 1257.7,380.0 1257.9,435.9 1258.0,458.8 1258.2,345.4 1258.3,444.2 1258.5,320.8 1258.6,545.6 1258.8,494.1 1258.9,377.9 1259.1,324.7 1259.2,477.3 1259.4,381.4 1259.5,444.5 1259.7,326.0 1259.9,341.7 1260.0,398.5 1260.2,407.0 1260.3,293.8 1260.5,407.2 1260.6,404.1 1260.8,212.3 1260.9,381.7 1261.1,448.9 1261.2,444.7 1261.4,359.1 1261.5,500.5 1261.7,395.5 1261.8,320.0 1262.0,296.0 1262.1,239.8 1262.3,413.6 1262.4,524.1 1262.6,514.4 1262.7,407.5 1262.9,515.1 1263.0,606.7 1263.2,476.8 1263.3,470.2 1263.5,452.3 1263.6,403.0 1263.8,522.0 1263.9,343.0 1264.1,428.6 1264.2,424.3 1264.4,310.0 1264.5,324.3 1264.7,415.6 1264.8,256.2 1265.0,388.6 1265.1,445.6 1265.3,335.3 1265.5,528.2 1265.6,459.4 1265.8,458.1 1265.9,442.0 1266.1,419.0 1266.2,458.0 1266.4,526.3 1266.5,423.3 1266.7,349.4 1266.8,449.6 1267.0,411.6 1267.1,407.5 1267.3,342.4 1267.4,468.8 1267.6,675.0 1267.7,373.3 1267.9,456.8 1268.0,444.5 1268.2,447.4 1268.3,529.9 1268.5,375.6 1268.6,388.8 1268.8,416.1 1268.9,491.9 1269.1,392.9 1269.2,405.2 1269.4,465.8 1269.5,538.5 1269.7,386.2 1269.8,422.1 1270.0,366.1 1270.1,516.9 1270.3,425.0 1270.4,395.3 1270.6,437.8 1270.8,518.5 1270.9,463.5 1271.1,453.8 1271.2,597.6 1271.4,368.7 1271.5,253.3 1271.7,445.5 1271.8,360.4 1272.0,394.9 1272.1,379.6 1272.3,406.0 1272.4,396.6 1272.6,432.2 1272.7,414.9 1272.9,360.3 1273.0,461.5 1273.2,422.5 1273.3,468.4 1273.5,450.0 1273.6,444.0 1273.8,363.0 1273.9,398.3 1274.1,425.3 1274.2,405.6 1274.4,471.9 1274.5,417.7 1274.7,342.9 1274.8,403.7 1275.0,511.9 1275.1,495.2 1275.3,542.5 1275.4,400.6 1275.6,339.2 1275.7,470.0 1275.9,306.4 1276.0,461.3 1276.2,543.9 1276.4,470.4 1276.5,400.0 1276.7,414.3 1276.8,424.6 1277.0,531.4 1277.1,262.3 1277.3,466.7 1277.4,524.9 1277.6,405.4 1277.7,409.2 1277.9,352.0 1278.0,446.9 1278.2,293.8 1278.3,338.2 1278.5,359.0 1278.6,539.7 1278.8,416.4 1278.9,422.3 1279.1,355.5 1279.2,323.7 1279.4,493.5 1279.5,495.0 1279.7,518.7 1279.8,257.3 1280.0,478.0 1280.1,367.0 1280.3,452.6 1280.4,324.9 1280.6,476.7 1280.7,662.8 1280.9,412.4 1281.0,464.2 1281.2,424.7 1281.3,359.4 1281.5,464.7 1281.7,481.9 1281.8,345.3 1282.0,325.7 1282.1,316.6 1282.3,516.1 1282.4,393.1 1282.6,372.2 1282.7,536.9 1282.9,386.3 1283.0,371.5 1283.2,304.2 1283.3,503.8 1283.5,426.8 1283.6,301.1 1283.8,486.3 1283.9,270.1 1284.1,458.0 1284.2,531.3 1284.4,354.4 1284.5,373.4 1284.7,371.2 1284.8,349.5 1285.0,522.8 1285.1,440.3 1285.3,479.0 1285.4,510.8 1285.6,542.5 1285.7,369.9 1285.9,496.8 1286.0,231.4 1286.2,377.7 1286.3,397.0 1286.5,500.3 1286.6,310.1 1286.8,360.4 1286.9,295.2 1287.1,317.4 1287.3,387.9 1287.4,309.2 1287.6,397.3 1287.7,441.1 1287.9,469.5 1288.0,413.6 1288.2,413.1 1288.3,544.4 1288.5,401.6 1288.6,321.3 1288.8,459.4 1288.9,409.6 1289.1,477.3 1289.2,386.5 1289.4,325.5 1289.5,326.5 1289.7,377.0 1289.8,405.5 1290.0,376.0 1290.1,512.5 1290.3,445.8 1290.4,552.0 1290.6,378.2 1290.7,295.2 1290.9,456.2 1291.0,415.8 1291.2,476.7 1291.3,270.8 1291.5,397.4 1291.6,403.5 1291.8,395.9 1291.9,540.6 1292.1,353.4 1292.2,374.5 1292.4,343.7 1292.6,513.5 1292.7,429.3 1292.9,520.3 1293.0,430.0 1293.2,362.8 1293.3,470.5 1293.5,374.3 1293.6,433.9 1293.8,354.9 1293.9,426.3 1294.1,384.1 1294.2,359.0 1294.4,400.0 1294.5,369.4 1294.7,266.3 1294.8,394.9 1295.0,309.9 1295.1,456.9 1295.3,385.1 1295.4,298.8 1295.6,427.5 1295.7,361.0 1295.9,387.0 1296.0,484.1 1296.2,414.1 1296.3,435.7 1296.5,368.9 1296.6,377.7 1296.8,480.6 1296.9,371.0 1297.1,499.0 1297.2,348.3 1297.4,446.6 1297.5,351.1 1297.7,296.0 1297.8,342.5 1298.0,404.4 1298.2,282.1 1298.3,446.6 1298.5,601.2 1298.6,340.2 1298.8,437.4 1298.9,388.3 1299.1,311.0 1299.2,383.2 1299.4,499.6 1299.5,498.1 1299.7,523.9 1299.8,499.2 1300.0,485.3 1300.1,386.2 1300.3,493.2 1300.4,462.2 1300.6,348.7 1300.7,499.3 1300.9,439.2 1301.0,414.9 1301.2,332.9 1301.3,430.8 1301.5,306.2 1301.6,489.3 1301.8,343.8 1301.9,446.5 1302.1,343.9 1302.2,329.3 1302.4,379.3 1302.5,489.7 1302.7,401.1 1302.8,354.6 1303.0,476.4 1303.1,591.5 1303.3,350.1 1303.5,409.8 1303.6,506.9 1303.8,476.3 1303.9,437.3 1304.1,250.6 1304.2,434.1 1304.4,490.5 1304.5,331.5 1304.7,370.3 1304.8,339.7 1305.0,532.4 1305.1,524.1 1305.3,379.2 1305.4,407.3 1305.6,425.0 1305.7,406.0 1305.9,488.6 1306.0,351.4 1306.2,365.4 1306.3,387.7 1306.5,518.2 1306.6,355.5 1306.8,246.1 1306.9,504.8 1307.1,428.8 1307.2,415.1 1307.4,502.1 1307.5,408.2 1307.7,458.1 1307.8,342.7 1308.0,356.6 1308.1,484.3 1308.3,500.6 1308.4,401.7 1308.6,481.6 1308.7,385.4 1308.9,416.4 1309.1,377.4 1309.2,303.6 1309.4,421.4 1309.5,497.9 1309.7,424.8 1309.8,496.5 1310.0,364.2 1310.1,481.9 1310.3,353.7 1310.4,400.0 1310.6,440.6 1310.7,412.9 1310.9,492.1 1311.0,542.9 1311.2,541.5 1311.3,356.6 1311.5,496.6 1311.6,405.3 1311.8,465.2 1311.9,404.8 1312.1,388.3 1312.2,400.3 1312.4,321.7 1312.5,534.1 1312.7,319.1 1312.8,335.7 1313.0,504.1 1313.1,290.4 1313.3,588.5 1313.4,356.5 1313.6,510.6 1313.7,365.8 1313.9,400.8 1314.0,429.5 1314.2,347.7 1314.3,345.6 1314.5,508.3 1314.7,395.6 1314.8,373.9 1315.0,502.5 1315.1,453.4 1315.3,366.2 1315.4,373.5 1315.6,439.7 1315.7,532.0 1315.9,500.8 1316.0,394.6 1316.2,490.0 1316.3,321.6 1316.5,433.3 1316.6,541.4 1316.8,546.9 1316.9,419.7 1317.1,376.4 1317.2,443.4 1317.4,447.0 1317.5,488.2 1317.7,479.5 1317.8,510.1 1318.0,350.2 1318.1,459.5 1318.3,598.6 1318.4,394.4 1318.6,389.1 1318.7,442.6 1318.9,425.8 1319.0,336.7 1319.2,341.2 1319.3,331.3 1319.5,429.5 1319.6,549.0 1319.8,476.6 1320.0,247.2 1320.1,368.8 1320.3,379.0 1320.4,358.8 1320.6,466.7 1320.7,477.9 1320.9,503.0 1321.0,500.5 1321.2,398.1 1321.3,362.9 1321.5,435.7 1321.6,333.3 1321.8,406.2 1321.9,353.0 1322.1,461.9 1322.2,375.2 1322.4,484.1 1322.5,459.8 1322.7,531.3 1322.8,501.5 1323.0,478.0 1323.1,404.9 1323.3,278.5 1323.4,394.3 1323.6,377.9 1323.7,406.5 1323.9,495.6 1324.0,500.0 1324.2,410.3 1324.3,508.1 1324.5,390.8 1324.6,377.9 1324.8,426.8 1324.9,413.4 1325.1,442.5 1325.2,377.9 1325.4,458.6 1325.6,432.6 1325.7,327.5 1325.9,500.2 1326.0,442.8 1326.2,379.4 1326.3,461.4 1326.5,402.1 1326.6,409.9 1326.8,391.0 1326.9,374.2 1327.1,452.6 1327.2,361.8 1327.4,365.8 1327.5,346.7 1327.7,403.0 1327.8,447.0 1328.0,474.4 1328.1,596.6 1328.3,373.3 1328.4,420.0 1328.6,469.1 1328.7,460.7 1328.9,427.2 1329.0,514.8 1329.2,477.7 1329.3,447.6 1329.5,482.9 1329.6,361.7 1329.8,469.4 1329.9,376.3 1330.1,547.2 1330.2,414.8 1330.4,306.1 1330.5,474.8 1330.7,299.6 1330.9,298.6 1331.0,393.2 1331.2,435.3 1331.3,368.9 1331.5,467.6 1331.6,408.6 1331.8,349.0 1331.9,395.4 1332.1,443.6 1332.2,393.4 1332.4,456.5 1332.5,458.0 1332.7,387.2 1332.8,434.2 1333.0,448.1 1333.1,547.0 1333.3,328.4 1333.4,511.8 1333.6,485.9 1333.7,409.6 1333.9,430.7 1334.0,535.5 1334.2,466.3 1334.3,442.2 1334.5,334.9 1334.6,488.0 1334.8,501.1 1334.9,407.0 1335.1,467.0 1335.2,500.1 1335.4,386.5 1335.5,435.3 1335.7,425.0 1335.8,595.2 1336.0,418.0 1336.1,283.6 1336.3,350.6 1336.5,525.7 1336.6,461.3 1336.8,463.1 1336.9,531.2 1337.1,456.7 1337.2,452.4 1337.4,439.6 1337.5,474.4 1337.7,458.6 1337.8,457.4 1338.0,342.9 1338.1,380.2 1338.3,446.0 1338.4,521.0 1338.6,433.4 1338.7,464.4 1338.9,426.2 1339.0,583.4 1339.2,394.0 1339.3,330.8 1339.5,430.4 1339.6,400.5 1339.8,533.4 1339.9,408.9 1340.1,336.7 1340.2,468.4 1340.4,401.3 1340.5,428.6 1340.7,510.6 1340.8,349.1 1341.0,447.1 1341.1,441.3 1341.3,386.8 1341.4,445.5 1341.6,291.1 1341.8,436.0 1341.9,313.0 1342.1,392.2 1342.2,529.1 1342.4,343.5 1342.5,423.1 1342.7,320.1 1342.8,447.9 1343.0,341.9 1343.1,453.3 1343.3,517.5 1343.4,350.5 1343.6,253.3 1343.7,424.8 1343.9,483.4 1344.0,320.8 1344.2,417.6 1344.3,505.7 1344.5,412.0 1344.6,326.5 1344.8,395.5 1344.9,402.3 1345.1,318.9 1345.2,348.1 1345.4,409.5 1345.5,350.1 1345.7,445.8 1345.8,471.9 1346.0,316.0 1346.1,521.7 1346.3,491.6 1346.4,406.6 1346.6,458.2 1346.7,431.0 1346.9,321.9 1347.0,521.0 1347.2,440.0 1347.4,459.1 1347.5,329.6 1347.7,470.3 1347.8,343.8 1348.0,281.4 1348.1,437.4 1348.3,408.1 1348.4,513.3 1348.6,446.2 1348.7,621.5 1348.9,355.7 1349.0,318.6 1349.2,413.1 1349.3,376.5 1349.5,390.9 1349.6,376.4 1349.8,459.6 1349.9,416.6 1350.1,438.8 1350.2,385.1 1350.4,335.7 1350.5,372.6 1350.7,413.9 1350.8,447.7 1351.0,507.2 1351.1,317.2 1351.3,367.1 1351.4,327.8 1351.6,341.1 1351.7,399.1 1351.9,512.4 1352.0,564.2 1352.2,406.4 1352.3,421.6 1352.5,506.5 1352.7,419.8 1352.8,466.8 1353.0,393.4 1353.1,328.9 1353.3,411.0 1353.4,377.4 1353.6,378.8 1353.7,357.6 1353.9,452.3 1354.0,236.8 1354.2,456.2 1354.3,510.0 1354.5,359.4 1354.6,414.9 1354.8,547.6 1354.9,380.2 1355.1,464.9 1355.2,493.4 1355.4,266.8 1355.5,396.3 1355.7,364.7 1355.8,509.8 1356.0,442.0 1356.1,383.1 1356.3,370.0 1356.4,454.4 1356.6,397.8 1356.7,520.7 1356.9,372.5 1357.0,506.3 1357.2,511.7 1357.3,508.8 1357.5,465.2 1357.6,320.2 1357.8,490.9 1357.9,281.4 1358.1,465.0 1358.3,478.4 1358.4,478.0 1358.6,375.8 1358.7,457.3 1358.9,455.8 1359.0,470.0 1359.2,305.7 1359.3,350.8 1359.5,498.2 1359.6,342.7 1359.8,211.0 1359.9,444.8 1360.1,440.3 1360.2,360.9 1360.4,417.3 1360.5,373.5 1360.7,379.8 1360.8,325.9 1361.0,456.0 1361.1,492.6 1361.3,323.9 1361.4,239.3 1361.6,324.3 1361.7,431.0 1361.9,475.9 1362.0,368.4 1362.2,373.2 1362.3,315.1 1362.5,500.2 1362.6,383.1 1362.8,439.2 1362.9,437.7 1363.1,418.7 1363.2,388.0 1363.4,452.8 1363.6,442.9 1363.7,451.5 1363.9,318.6 1364.0,534.2 1364.2,497.0 1364.3,440.2 1364.5,433.6 1364.6,517.7 1364.8,479.8 1364.9,462.2 1365.1,369.8 1365.2,391.9 1365.4,352.1 1365.5,466.2 1365.7,508.4 1365.8,368.4 1366.0,466.3 1366.1,515.5 1366.3,472.9 1366.4,420.8 1366.6,455.9 1366.7,453.5 1366.9,344.8 1367.0,459.3 1367.2,372.5 1367.3,323.1 1367.5,398.9 1367.6,420.0 1367.8,422.4 1367.9,392.2 1368.1,400.3 1368.2,379.5 1368.4,354.3 1368.5,450.3 1368.7,359.7 1368.8,334.6 1369.0,391.4 1369.2,379.1 1369.3,410.7 1369.5,468.1 1369.6,434.3 1369.8,326.0 1369.9,379.6 1370.1,390.6 1370.2,430.8 1370.4,503.1 1370.5,476.3 1370.7,445.2 1370.8,392.8 1371.0,339.7 1371.1,395.3 1371.3,488.1 1371.4,569.2 1371.6,291.1 1371.7,521.6 1371.9,453.6 1372.0,331.1 1372.2,264.1 1372.3,492.0 1372.5,326.1 1372.6,475.2 1372.8,537.5 1372.9,429.6 1373.1,343.1 1373.2,428.3 1373.4,407.1 1373.5,515.2 1373.7,481.7 1373.8,376.3 1374.0,384.8 1374.1,351.1 1374.3,384.3 1374.5,630.0 1374.6,539.4 1374.8,336.7 1374.9,400.6 1375.1,380.4 1375.2,322.9 1375.4,242.0 1375.5,390.1 1375.7,433.1 1375.8,503.1 1376.0,433.3 1376.1,393.5 1376.3,412.3 1376.4,382.0 1376.6,437.5 1376.7,545.0 1376.9,320.5 1377.0,427.0 1377.2,222.9 1377.3,486.4 1377.5,483.6 1377.6,446.7 1377.8,417.3 1377.9,476.4 1378.1,460.4 1378.2,469.2 1378.4,304.0 1378.5,412.9 1378.7,338.5 1378.8,124.6 1379.0,415.2 1379.1,435.9 1379.3,314.9 1379.4,303.4 1379.6,481.4 1379.7,458.8 1379.9,334.5 1380.1,508.7 1380.2,334.6 1380.4,434.0 1380.5,203.8 1380.7,418.4 1380.8,444.1 1381.0,327.5 1381.1,401.1 1381.3,478.0 1381.4,454.9 1381.6,455.3 1381.7,359.1 1381.9,396.0 1382.0,537.6 1382.2,383.9 1382.3,523.2 1382.5,599.6 1382.6,319.3 1382.8,370.9 1382.9,480.5 1383.1,458.7 1383.2,519.5 1383.4,334.9 1383.5,466.8 1383.7,420.5 1383.8,437.0 1384.0,358.2 1384.1,391.9 1384.3,338.2 1384.4,507.9 1384.6,448.7 1384.7,355.1 1384.9,379.6 1385.0,374.0 1385.2,408.4 1385.3,484.7 1385.5,405.2 1385.7,438.6 1385.8,391.4 1386.0,481.3 1386.1,498.6 1386.3,443.7 1386.4,350.2 1386.6,328.5 1386.7,488.6 1386.9,380.1 1387.0,392.8 1387.2,364.2 1387.3,470.1 1387.5,358.8 1387.6,353.9 1387.8,503.7 1387.9,433.2 1388.1,506.1 1388.2,533.0 1388.4,287.0 1388.5,372.7 1388.7,497.5 1388.8,442.7 1389.0,470.1 1389.1,445.8 1389.3,347.5 1389.4,423.3 1389.6,587.5 1389.7,429.0 1389.9,465.7 1390.0,337.5 1390.2,482.4 1390.3,326.1 1390.5,416.8 1390.6,447.6 1390.8,326.2 1391.0,488.1 1391.1,389.6 1391.3,479.8 1391.4,496.6 1391.6,300.7 1391.7,434.4 1391.9,451.8 1392.0,462.2 1392.2,370.6 1392.3,413.3 1392.5,328.5 1392.6,353.9 1392.8,490.5 1392.9,320.5 1393.1,616.8 1393.2,351.8 1393.4,407.5 1393.5,270.8 1393.7,347.4 1393.8,510.2 1394.0,348.9 1394.1,457.3 1394.3,373.7 1394.4,400.6 1394.6,439.3 1394.7,431.4 1394.9,377.2 1395.0,355.2 1395.2,342.3 1395.3,511.3 1395.5,406.7 1395.6,351.0 1395.8,404.6 1395.9,446.4 1396.1,430.3 1396.2,305.6 1396.4,465.2 1396.6,456.3 1396.7,304.3 1396.9,357.9 1397.0,365.1 1397.2,416.4 1397.3,518.6 1397.5,417.6 1397.6,429.7 1397.8,441.1 1397.9,436.4 1398.1,433.4 1398.2,379.8 1398.4,445.2 1398.5,364.8 1398.7,459.2 1398.8,309.9 1399.0,503.5 1399.1,490.0 1399.3,328.0 1399.4,357.4 1399.6,345.6 1399.7,437.0 1399.9,410.4 1400.0,390.7 1400.2,404.6 1400.3,307.6 1400.5,326.1 1400.6,465.5 1400.8,523.3 1400.9,500.5 1401.1,309.0 1401.2,384.0 1401.4,412.6 1401.5,543.3 1401.7,597.6 1401.9,276.9 1402.0,480.5 1402.2,417.2 1402.3,335.6 1402.5,456.5 1402.6,362.6 1402.8,438.1 1402.9,363.5 1403.1,346.5 1403.2,538.7 1403.4,320.0 1403.5,446.0 1403.7,294.0 1403.8,406.2 1404.0,344.2 1404.1,397.9 1404.3,444.9 1404.4,489.5 1404.6,211.0 1404.7,403.1 1404.9,419.8 1405.0,337.1 1405.2,472.2 1405.3,355.6 1405.5,539.0 1405.6,454.4 1405.8,443.1 1405.9,358.0 1406.1,525.1 1406.2,518.5 1406.4,500.4 1406.5,454.2 1406.7,369.5 1406.8,342.7 1407.0,426.0 1407.1,407.3 1407.3,503.0 1407.5,434.6 1407.6,410.4 1407.8,346.4 1407.9,483.1 1408.1,325.9 1408.2,527.0 1408.4,365.8 1408.5,360.8 1408.7,455.4 1408.8,464.8 1409.0,329.9 1409.1,469.6 1409.3,445.8 1409.4,620.3 1409.6,342.0 1409.7,413.5 1409.9,426.2 1410.0,297.8 1410.2,344.9 1410.3,331.9 1410.5,543.5 1410.6,370.5 1410.8,349.3 1410.9,388.2 1411.1,377.1 1411.2,538.7 1411.4,424.9 1411.5,392.2 1411.7,361.6 1411.8,462.8 1412.0,406.5 1412.1,344.2 1412.3,345.1 1412.4,429.8 1412.6,364.2 1412.8,490.1 1412.9,349.0 1413.1,252.1 1413.2,424.9 1413.4,512.7 1413.5,464.4 1413.7,416.1 1413.8,424.2 1414.0,486.6 1414.1,423.9 1414.3,373.3 1414.4,499.2 1414.6,506.6 1414.7,504.5 1414.9,418.3 1415.0,360.3 1415.2,323.9 1415.3,606.7 1415.5,460.2 1415.6,522.2 1415.8,380.0 1415.9,406.5 1416.1,444.4 1416.2,298.0 1416.4,487.3 1416.5,374.6 1416.7,514.2 1416.8,393.3 1417.0,380.7 1417.1,176.3 1417.3,402.0 1417.4,326.1 1417.6,352.3 1417.7,404.6 1417.9,374.7 1418.0,341.0 1418.2,459.9 1418.4,485.6 1418.5,482.2 1418.7,473.4 1418.8,439.9 1419.0,460.7 1419.1,398.7 1419.3,498.9 1419.4,441.8 1419.6,405.0 1419.7,363.3 1419.9,353.8 1420.0,327.4 1420.2,421.9 1420.3,440.0 1420.5,427.8 1420.6,509.4 1420.8,493.3 1420.9,375.6 1421.1,509.3 1421.2,418.1 1421.4,299.4 1421.5,354.3 1421.7,414.1 1421.8,486.4 1422.0,340.3 1422.1,272.4 1422.3,438.0 1422.4,351.4 1422.6,515.7 1422.7,407.0 1422.9,363.1 1423.0,336.3 1423.2,445.4 1423.3,441.0 1423.5,401.0 1423.7,417.6 1423.8,443.0 1424.0,486.6 1424.1,486.6 1424.3,326.0 1424.4,508.9 1424.6,331.5 1424.7,437.8 1424.9,379.0 1425.0,465.3 1425.2,344.1 1425.3,474.6 1425.5,352.5 1425.6,333.9 1425.8,503.9 1425.9,368.1 1426.1,477.9 1426.2,336.4 1426.4,365.4 1426.5,271.3 1426.7,411.7 1426.8,400.5 1427.0,530.4 1427.1,493.0 1427.3,427.6 1427.4,358.6 1427.6,321.7 1427.7,509.5 1427.9,524.7 1428.0,520.2 1428.2,364.1 1428.3,438.0 1428.5,344.1 1428.6,348.3 1428.8,424.3 1428.9,302.0 1429.1,568.2 1429.3,487.8 1429.4,355.9 1429.6,455.9 1429.7,376.6 1429.9,469.8 1430.0,262.7 1430.2,421.8 1430.3,426.0 1430.5,458.9 1430.6,366.1 1430.8,423.6 1430.9,297.6 1431.1,376.7 1431.2,411.9 1431.4,435.8 1431.5,389.0 1431.7,349.1 1431.8,508.0 1432.0,384.6 1432.1,338.4 1432.3,271.3 1432.4,418.3 1432.6,398.2 1432.7,495.9 1432.9,444.5 1433.0,448.8 1433.2,466.0 1433.3,359.0 1433.5,448.5 1433.6,384.9 1433.8,339.3 1433.9,362.0 1434.1,199.7 1434.2,433.3 1434.4,383.9 1434.6,474.5 1434.7,504.7 1434.9,398.0 1435.0,398.3 1435.2,440.7 1435.3,371.4 1435.5,472.7 1435.6,533.7 1435.8,521.9 1435.9,422.1 1436.1,380.3 1436.2,330.3 1436.4,385.9 1436.5,466.9 1436.7,487.2 1436.8,614.8 1437.0,438.1 1437.1,301.0 1437.3,435.1 1437.4,367.4 1437.6,379.1 1437.7,361.7 1437.9,334.8 1438.0,319.6 1438.2,419.7 1438.3,441.7 1438.5,339.0 1438.6,397.1 1438.8,399.7 1438.9,395.7 1439.1,454.2 1439.2,536.6 1439.4,461.3 1439.5,319.4 1439.7,414.8 1439.8,402.4 1440.0,424.0" stroke="#4C72B0" stroke-width="2.500" fill="none" stroke-linejoin="round" stroke-linecap="square" clip-path="url(#ax)"/>
<path d="M200 421.87H1440" stroke="#DD8452" stroke-width="2.083" fill="none"/>
<path d="M200 684.5H1440M200 628.5H1440M200 572.5H1440M200 516.5H1440M200 460.5H1440M200 404.5H1440M200 348.5H1440M200 292.5H1440M200 236.5H1440M200 180.5H1440M200 124.5H1440" stroke="#ffffff" stroke-width="1.389" fill="none"/>
<polyline points="200.00,518.00 209.69,658.00 219.38,679.25 229.07,681.75 238.75,680.00 248.44,660.00 258.13,318.00 267.82,134.25 277.51,127.50 287.20,127.50 296.89,130.75 306.58,145.50 316.26,203.75 325.95,348.00 335.64,519.00 345.33,648.75 355.02,681.75 364.71,683.75 374.40,683.50 384.08,683.50 393.77,683.50 403.46,683.50 413.15,683.50 422.84,683.50 432.53,683.50 442.22,683.50 451.91,683.50 461.59,683.50 471.28,683.50 480.97,683.50 490.66,683.50 500.35,683.50 510.04,683.50 519.73,683.50 529.42,683.50 539.10,683.50 548.79,683.50 558.48,683.50 568.17,683.50 577.86,683.50 587.55,683.50 597.24,683.50 606.92,683.50 616.61,683.50 626.30,683.50 635.99,683.50 645.68,683.50 655.37,683.50 665.06,683.50 674.75,683.50 684.43,683.50 694.12,683.50 703.81,683.50 713.50,683.50 723.19,683.50 732.88,683.50 742.57,683.50 752.25,683.50 761.94,683.50 771.63,683.50 781.32,683.50 791.01,683.50 800.70,683.50 810.39,683.50 820.08,683.50 829.76,683.50 839.45,683.50 849.14,683.50 858.83,683.50 868.52,683.50 878.21,683.50 887.90,683.50 897.59,683.50 907.27,683.50 916.96,683.50 926.65,683.50 936.34,683.50 946.03,683.50 955.72,683.50 965.41,682.75 975.09,681.60 984.78,679.50 994.47,678.50 1004.16,680.75 1013.85,682.90 1023.54,683.30 1033.23,683.30 1042.92,683.30 1052.60,683.30 1062.29,683.10 1071.98,680.60 1081.67,655.60 1091.36,467.00 1101.05,278.00 1110.74,253.00 1120.42,266.00 1130.11,281.00 1139.80,293.00 1149.49,309.00 1159.18,334.00 1168.87,388.00 1178.56,467.00 1188.25,535.00 1197.93,570.00 1207.62,556.00 1217.31,472.00 1227.00,371.00 1236.69,308.00 1246.38,278.00 1256.07,275.00 1265.76,284.00 1275.44,302.00 1285.13,321.00 1294.82,340.00 1304.51,362.00 1314.20,385.00 1323.89,403.00 1333.58,408.00 1343.26,410.40 1352.95,408.50 1362.64,400.00 1372.33,387.50 1382.02,368.75 1391.71,331.00 1401.40,284.00 1411.09,237.00 1420.77,192.00 1430.46,148.00" stroke="#55A868" stroke-width="2.083" fill="none" stroke-linejoin="round" stroke-linecap="square" clip-path="url(#ax)"/>
<path d="M200 180.0H1440" stroke="#C44E52" stroke-width="2.083" fill="none"/>
<path d="M258.0 684.0V124.0M307.0 684.0V124.0M1421.0 684.0V124.0" stroke="#1A1A1A" stroke-width="2.083" fill="none"/>
<text x="231.00" y="124.00" font-size="21.77" textLength="93.88" lengthAdjust="spacingAndGlyphs" >SNR=0.0</text>
<text x="612.84" y="124.00" font-size="21.77" text-anchor="middle" font-style="italic">M</text>
<text x="625.87" y="127.45" font-size="16.33" text-anchor="middle" font-style="italic">c</text>
<text x="638.40" y="124.00" font-size="21.77" text-anchor="middle">=</text>
<text x="653.78" y="124.00" font-size="21.77" text-anchor="middle">0</text>
<text x="663.75" y="124.00" font-size="21.77" text-anchor="middle">.</text>
<text x="673.70" y="124.00" font-size="21.77" text-anchor="middle">0</text>
<text x="1075.52" y="124.00" font-size="21.77" text-anchor="middle" font-style="italic">S</text>
<text x="1090.09" y="124.00" font-size="21.77" text-anchor="middle">=</text>
<text x="1105.47" y="124.00" font-size="21.77" text-anchor="middle">0</text>
<text x="1115.44" y="124.00" font-size="21.77" text-anchor="middle">.</text>
<text x="1125.39" y="124.00" font-size="21.77" text-anchor="middle">9</text>
<text x="1138.67" y="124.00" font-size="21.77" text-anchor="middle">5</text>
<text x="1150.45" y="124.00" font-size="21.77" text-anchor="middle">7</text>
<text x="1163.73" y="124.00" font-size="21.77" text-anchor="middle">1</text>
<text x="1177.01" y="124.00" font-size="21.77" text-anchor="middle">7</text>
<text x="1190.30" y="124.00" font-size="21.77" text-anchor="middle">5</text>
<text x="1202.45" y="124.00" font-size="21.77" text-anchor="middle">9</text>
<text x="1215.73" y="124.00" font-size="21.77" text-anchor="middle">7</text>
<text x="1229.01" y="124.00" font-size="21.77" text-anchor="middle">0</text>
<text x="1242.30" y="124.00" font-size="21.77" text-anchor="middle">0</text>
<text x="1255.58" y="124.00" font-size="21.77" text-anchor="middle">7</text>
<text x="1268.48" y="124.00" font-size="21.77" text-anchor="middle">7</text>
<text x="1281.76" y="124.00" font-size="21.77" text-anchor="middle">5</text>
<text x="1295.05" y="124.00" font-size="21.77" text-anchor="middle">1</text>
<text x="1308.33" y="124.00" font-size="21.77" text-anchor="middle">4</text>
<text x="1321.61" y="124.00" font-size="21.77" text-anchor="middle">6</text>
<rect x="200" y="96" width="1240" height="616" fill="none" stroke="#ffffff" stroke-width="1.736"/>
<path d="M192 690.0H199M192 660.0H199M192 630.0H199M192 601.0H199M192 571.0H199M192 541.0H199M192 511.0H199M192 481.0H199M192 452.0H199M192 422.0H199M192 392.0H199M192 362.0H199M192 333.0H199M192 303.0H199M192 273.0H199M192 243.0H199M192 213.0H199M192 184.0H199M192 154.0H199M192 124.0H199M1441 684.0H1448M1441 628.0H1448M1441 572.0H1448M1441 516.0H1448M1441 460.0H1448M1441 404.0H1448M1441 348.0H1448M1441 292.0H1448M1441 236.0H1448M1441 180.0H1448M1441 124.0H1448" stroke="#424242" stroke-width="2" fill="none"/>
<text x="600.56" y="87.67" font-size="17.42" textLength="438.88" lengthAdjust="spacingAndGlyphs" >stats at each timestep for test data 386 [signal=0.0]</text>
<text x="786.12" y="759.75" font-size="17.42" textLength="67.75" lengthAdjust="spacingAndGlyphs" >Time (s)</text>
<text transform="translate(139.65,404.00) rotate(-90)" text-anchor="middle" font-size="18.81" textLength="132.25" lengthAdjust="spacingAndGlyphs" >Whitened strain</text>
<text transform="translate(1496.40,404.00) rotate(-90)" text-anchor="middle" font-size="18.81" textLength="174.50" lengthAdjust="spacingAndGlyphs" >Detection probability</text>
<text x="149.81" y="695.96" font-size="15.97" textLength="37.00" lengthAdjust="spacingAndGlyphs" >−0.9</text>
<text x="149.93" y="666.17" font-size="15.97" textLength="36.88" lengthAdjust="spacingAndGlyphs" >−0.8</text>
<text x="149.93" y="636.38" font-size="15.97" textLength="36.88" lengthAdjust="spacingAndGlyphs" >−0.7</text>
<text x="149.81" y="606.60" font-size="15.97" textLength="37.00" lengthAdjust="spacingAndGlyphs" >−0.6</text>
<text x="149.93" y="576.81" font-size="15.97" textLength="36.88" lengthAdjust="spacingAndGlyphs" >−0.5</text>
<text x="149.93" y="547.02" font-size="15.97" textLength="36.88" lengthAdjust="spacingAndGlyphs" >−0.4</text>
<text x="149.81" y="517.23" font-size="15.97" textLength="37.00" lengthAdjust="spacingAndGlyphs" >−0.3</text>
<text x="149.93" y="487.45" font-size="15.97" textLength="36.88" lengthAdjust="spacingAndGlyphs" >−0.2</text>
<text x="149.93" y="457.66" font-size="15.97" textLength="36.88" lengthAdjust="spacingAndGlyphs" >−0.1</text>
<text x="162.68" y="427.87" font-size="15.97" textLength="24.12" lengthAdjust="spacingAndGlyphs" >0.0</text>
<text x="162.68" y="398.09" font-size="15.97" textLength="24.12" lengthAdjust="spacingAndGlyphs" >0.1</text>
<text x="162.68" y="368.30" font-size="15.97" textLength="24.12" lengthAdjust="spacingAndGlyphs" >0.2</text>
<text x="162.56" y="338.51" font-size="15.97" textLength="24.25" lengthAdjust="spacingAndGlyphs" >0.3</text>
<text x="162.68" y="308.72" font-size="15.97" textLength="24.12" lengthAdjust="spacingAndGlyphs" >0.4</text>
<text x="162.68" y="278.94" font-size="15.97" textLength="24.12" lengthAdjust="spacingAndGlyphs" >0.5</text>
<text x="162.56" y="249.15" font-size="15.97" textLength="24.25" lengthAdjust="spacingAndGlyphs" >0.6</text>
<text x="162.68" y="219.36" font-size="15.97" textLength="24.12" lengthAdjust="spacingAndGlyphs" >0.7</text>
<text x="162.68" y="189.57" font-size="15.97" textLength="24.12" lengthAdjust="spacingAndGlyphs" >0.8</text>
<text x="162.56" y="159.79" font-size="15.97" textLength="24.25" lengthAdjust="spacingAndGlyphs" >0.9</text>
<text x="162.68" y="130.00" font-size="15.97" textLength="24.12" lengthAdjust="spacingAndGlyphs" >1.0</text>
<text x="187.94" y="737.19" font-size="15.97" textLength="24.12" lengthAdjust="spacingAndGlyphs" >0.0</text>
<text x="265.45" y="737.19" font-size="15.97" textLength="24.12" lengthAdjust="spacingAndGlyphs" >0.5</text>
<text x="342.96" y="737.19" font-size="15.97" textLength="24.12" lengthAdjust="spacingAndGlyphs" >1.0</text>
<text x="420.47" y="737.19" font-size="15.97" textLength="24.12" lengthAdjust="spacingAndGlyphs" >1.5</text>
<text x="497.98" y="737.19" font-size="15.97" textLength="24.12" lengthAdjust="spacingAndGlyphs" >2.0</text>
<text x="575.48" y="737.19" font-size="15.97" textLength="24.12" lengthAdjust="spacingAndGlyphs" >2.5</text>
<text x="652.93" y="737.19" font-size="15.97" textLength="24.25" lengthAdjust="spacingAndGlyphs" >3.0</text>
<text x="730.44" y="737.19" font-size="15.97" textLength="24.25" lengthAdjust="spacingAndGlyphs" >3.5</text>
<text x="808.01" y="737.19" font-size="15.97" textLength="24.12" lengthAdjust="spacingAndGlyphs" >4.0</text>
<text x="885.52" y="737.19" font-size="15.97" textLength="24.12" lengthAdjust="spacingAndGlyphs" >4.5</text>
<text x="963.03" y="737.19" font-size="15.97" textLength="24.12" lengthAdjust="spacingAndGlyphs" >5.0</text>
<text x="1040.54" y="737.19" font-size="15.97" textLength="24.12" lengthAdjust="spacingAndGlyphs" >5.5</text>
<text x="1117.99" y="737.19" font-size="15.97" textLength="24.25" lengthAdjust="spacingAndGlyphs" >6.0</text>
<text x="1195.50" y="737.19" font-size="15.97" textLength="24.25" lengthAdjust="spacingAndGlyphs" >6.5</text>
<text x="1273.07" y="737.19" font-size="15.97" textLength="24.12" lengthAdjust="spacingAndGlyphs" >7.0</text>
<text x="1350.58" y="737.19" font-size="15.97" textLength="24.12" lengthAdjust="spacingAndGlyphs" >7.5</text>
<text x="1453.19" y="690.00" font-size="15.97" textLength="24.12" lengthAdjust="spacingAndGlyphs" >0.0</text>
<text x="1453.19" y="634.00" font-size="15.97" textLength="24.12" lengthAdjust="spacingAndGlyphs" >0.1</text>
<text x="1453.19" y="578.00" font-size="15.97" textLength="24.12" lengthAdjust="spacingAndGlyphs" >0.2</text>
<text x="1453.19" y="522.00" font-size="15.97" textLength="24.25" lengthAdjust="spacingAndGlyphs" >0.3</text>
<text x="1453.19" y="466.00" font-size="15.97" textLength="24.12" lengthAdjust="spacingAndGlyphs" >0.4</text>
<text x="1453.19" y="410.00" font-size="15.97" textLength="24.12" lengthAdjust="spacingAndGlyphs" >0.5</text>
<text x="1453.19" y="354.00" font-size="15.97" textLength="24.25" lengthAdjust="spacingAndGlyphs" >0.6</text>
<text x="1453.19" y="298.00" font-size="15.97" textLength="24.12" lengthAdjust="spacingAndGlyphs" >0.7</text>
<text x="1453.19" y="242.00" font-size="15.97" textLength="24.12" lengthAdjust="spacingAndGlyphs" >0.8</text>
<text x="1453.19" y="186.00" font-size="15.97" textLength="24.25" lengthAdjust="spacingAndGlyphs" >0.9</text>
<text x="1453.19" y="130.00" font-size="15.97" textLength="24.12" lengthAdjust="spacingAndGlyphs" >1.0</text>
<rect x="1120.56" y="670.65" width="239.00" height="49.86" rx="4" ry="4" fill="#EAEAF2" fill-opacity="0.8" stroke="#CCCCCC" stroke-width="1.39"/>
<path d="M1126.67 683.41H1157.23" stroke="#4C72B0" stroke-width="2.083" stroke-linecap="square"/>
<path d="M1126.67 706.05H1157.23" stroke="#DD8452" stroke-width="2.083" stroke-linecap="square"/>
<text x="1169.45" y="688.76" font-size="15.97" textLength="159.00" lengthAdjust="spacingAndGlyphs" >waveform with noise</text>
<text x="1169.45" y="711.40" font-size="15.97" textLength="184.00" lengthAdjust="spacingAndGlyphs" >waveform without noise</text>
</svg></body></html>
